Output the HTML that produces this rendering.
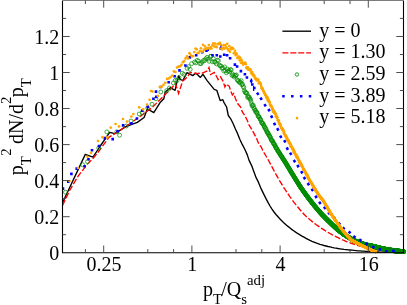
<!DOCTYPE html>
<html><head><meta charset="utf-8"><title>plot</title>
<style>html,body{margin:0;padding:0;background:#fff;overflow:hidden}svg{display:block}</style>
</head><body>
<svg width="407" height="305" viewBox="0 0 407 305">
<rect width="407" height="305" fill="#fff"/>
<defs><clipPath id="c"><rect x="62.5" y="0" width="343.5" height="253.89999999999998"/></clipPath></defs>
<g clip-path="url(#c)" fill="none">
<path d="M62.4 203 L85.3 154.4 L93 157.2 L100.3 146 L109.7 132.3 L114.7 133.6 L126.4 126.4 L137.3 122.4 L144.1 117.5 L147.4 108.8 L153.8 112.6 L159.9 102.8 L163.8 98.8 L165.2 92 L170.3 87.7 L175.1 90.3 L177.2 80.8 L178.8 75.8 L180 79.3 L182.8 80.5 L187 72.6 L192.7 75.6 L195.8 73.1 L200.4 77.4 L203 74.3 L207.3 80.8 L214.2 89.4 L216.8 90.3 L220.2 100.6 L222.8 99.7 L223.9 102.3 L226.6 107 L228.3 115.5 L230.7 118.8 L233.3 124 L235.4 129 L237.5 133.4 L239.8 139.3 L242.1 144.1 L244.8 149.3 L247.2 154.6 L249.1 160.4 L252 166.4 L254.1 172.2 L256 177.4 L258.5 182.4 L260.6 187.6 L264 194.6 L266 198.6 L268 202.4 L270 206 L272 209.1 L274 212 L276 214.5 L278 216.8 L280 219 L282 221 L284 222.9 L286 224.7 L288 226.4 L290 228 L292 229.6 L294 231 L296 232.4 L298 233.7 L300 234.9 L302 236.1 L304 237.2 L306 238.3 L308 239.4 L310 240.4 L312 241.3 L314 242.1 L316 242.9 L318 243.6 L320 244.3 L322 244.9 L324 245.5 L326 246 L328 246.5 L330 246.9 L332 247.4 L334 247.8 L336 248.1 L338 248.5 L340 248.8 L342 249.1 L344 249.4 L346 249.6 L348 249.8 L350 250 L352 250.2 L354 250.4 L356 250.6 L358 250.8 L360 250.9 L362 251.1 L364 251.2 L366 251.3 L368 251.5 L370 251.6 L372 251.7 L374 251.8 L376 251.9 L378 252 L380 252.1 L382 252.1 L384 252.2 L386 252.2 L388 252.3 L390 252.3 L392 252.4 L394 252.4 L396 252.4 L398 252.5 L400 252.5 L402 252.5" stroke="#000" stroke-width="1.35" stroke-linejoin="round"/>
<path d="M62.5 205.5 L70 189.8 L78 176.3 L87.1 164.4 L93.4 158 L97.9 152.5 L109 137.3 L124.5 127.3 L138 118 L152 107.7 L163.8 95.9 L171.2 88.5 L175.5 83.5 L178.6 93.5 L182.6 81.2 L187.5 77 L190 72.4 L196.2 73.6 L202.5 73 L207.5 70.7 L209 67.6 L210.6 74.5 L214.3 72.4 L215.6 74.5 L218.1 79.5 L220.6 76.8 L223.1 81.3 L224.9 86.9 L226.2 84.2 L229.3 86.3 L230.5 90.7 L232.4 95 L233.7 93.6 L235.5 98.8 L237.8 103.8 L240.6 107 L242.2 111.6 L244.8 115.6 L247.2 120.3 L249.1 125.1 L252 129.8 L254.2 133.9 L256.6 138.5 L258.4 143 L261.3 147.2 L263.1 151.2 L266 156 L268 159.5 L270 163.1 L272 166.9 L274 170.7 L276 174.4 L278 177.9 L280 181.3 L282 184.6 L284 187.8 L286 190.8 L288 193.8 L290 196.8 L292 199.6 L294 202.3 L296 204.9 L298 207.3 L300 209.7 L302 212 L304 214.2 L306 216.2 L308 218.1 L310 219.8 L312 221.4 L314 223 L316 224.5 L318 225.9 L320 227.3 L322 228.6 L324 229.9 L326 231.2 L328 232.4 L330 233.5 L332 234.6 L334 235.7 L336 236.7 L338 237.7 L340 238.7 L342 239.6 L344 240.5 L346 241.3 L348 242.1 L350 242.8 L352 243.5 L354 244.2 L356 244.9 L358 245.5 L360 246.1 L362 246.7 L364 247.2 L366 247.8 L368 248.3 L370 248.7 L372 249.1 L374 249.4 L376 249.8 L378 250.1 L380 250.4 L382 250.7 L384 250.9 L386 251.1 L388 251.3 L390 251.5 L392 251.6 L394 251.8 L396 251.9 L398 252 L400 252.1 L402 252.2" stroke="#f00" stroke-width="1.35" stroke-dasharray="6 2"/>
<g stroke="#008b00" stroke-width="0.72">
<circle cx="65.5" cy="192.2" r="1.95"/><circle cx="82.6" cy="164.7" r="1.95"/><circle cx="87.5" cy="161.7" r="1.95"/><circle cx="98.7" cy="148" r="1.95"/><circle cx="106.8" cy="131.9" r="1.95"/><circle cx="119.6" cy="135.2" r="1.95"/><circle cx="126.4" cy="126" r="1.95"/><circle cx="131" cy="121" r="1.95"/><circle cx="139.2" cy="114" r="1.95"/><circle cx="142.2" cy="112.5" r="1.95"/><circle cx="147.7" cy="108" r="1.95"/><circle cx="152" cy="104.2" r="1.95"/><circle cx="156" cy="98.8" r="1.95"/><circle cx="160.8" cy="92" r="1.95"/><circle cx="166.7" cy="90.6" r="1.95"/><circle cx="116.9" cy="131.8" r="1.95"/><circle cx="169.4" cy="88" r="1.95"/><circle cx="173.4" cy="83" r="1.95"/><circle cx="175.3" cy="80.3" r="1.95"/><circle cx="177.1" cy="80.5" r="1.95"/><circle cx="178.9" cy="77.6" r="1.95"/><circle cx="182.3" cy="73.2" r="1.95"/><circle cx="184" cy="74.4" r="1.95"/><circle cx="187.1" cy="68.3" r="1.95"/><circle cx="188.7" cy="66.6" r="1.95"/><circle cx="190.2" cy="69.4" r="1.95"/><circle cx="191.6" cy="63.7" r="1.95"/><circle cx="194.5" cy="62.1" r="1.95"/><circle cx="195.8" cy="62.9" r="1.95"/><circle cx="197.2" cy="60.4" r="1.95"/><circle cx="198.5" cy="61" r="1.95"/><circle cx="199.8" cy="63.6" r="1.95"/><circle cx="201" cy="63.6" r="1.95"/><circle cx="202.2" cy="62" r="1.95"/><circle cx="203.5" cy="60.4" r="1.95"/><circle cx="204.6" cy="60.7" r="1.95"/><circle cx="205.8" cy="58.8" r="1.95"/><circle cx="207" cy="57.4" r="1.95"/><circle cx="208.1" cy="59.2" r="1.95"/><circle cx="209.2" cy="61.3" r="1.95"/><circle cx="210.3" cy="56.4" r="1.95"/><circle cx="211.3" cy="56.2" r="1.95"/><circle cx="212.4" cy="61.8" r="1.95"/><circle cx="213.4" cy="58.6" r="1.95"/><circle cx="214.4" cy="61.8" r="1.95"/><circle cx="215.4" cy="62.2" r="1.95"/><circle cx="216.4" cy="63.9" r="1.95"/><circle cx="217.4" cy="60.2" r="1.95"/><circle cx="218.4" cy="60.7" r="1.95"/><circle cx="219.3" cy="65.1" r="1.95"/><circle cx="220.2" cy="65.8" r="1.95"/><circle cx="221.1" cy="66.1" r="1.95"/><circle cx="222" cy="68.3" r="1.95"/><circle cx="222.9" cy="68" r="1.95"/><circle cx="223.8" cy="71" r="1.95"/><circle cx="224.7" cy="66.9" r="1.95"/><circle cx="225.5" cy="70.7" r="1.95"/><circle cx="226.4" cy="72.8" r="1.95"/><circle cx="227.2" cy="68.9" r="1.95"/><circle cx="228" cy="71.5" r="1.95"/><circle cx="228.8" cy="70.4" r="1.95"/><circle cx="229.6" cy="71.7" r="1.95"/><circle cx="230.4" cy="69.6" r="1.95"/><circle cx="231.2" cy="69.8" r="1.95"/><circle cx="232" cy="75.5" r="1.95"/><circle cx="232.7" cy="74" r="1.95"/><circle cx="233.5" cy="75.7" r="1.95"/><circle cx="234.2" cy="77" r="1.95"/><circle cx="235" cy="75.4" r="1.95"/><circle cx="235.7" cy="75.7" r="1.95"/><circle cx="236.4" cy="74.9" r="1.95"/><circle cx="237.1" cy="79.6" r="1.95"/><circle cx="237.8" cy="80.6" r="1.95"/><circle cx="238.5" cy="80.8" r="1.95"/><circle cx="239.2" cy="82.4" r="1.95"/><circle cx="239.9" cy="81.7" r="1.95"/><circle cx="240.6" cy="82.8" r="1.95"/><circle cx="241.2" cy="80.6" r="1.95"/><circle cx="241.9" cy="84.7" r="1.95"/><circle cx="242.5" cy="84.1" r="1.95"/><circle cx="243.2" cy="86.5" r="1.95"/><circle cx="243.8" cy="87.7" r="1.95"/><circle cx="244.4" cy="90.6" r="1.95"/><circle cx="245.1" cy="92.2" r="1.95"/><circle cx="245.7" cy="92.8" r="1.95"/><circle cx="246.3" cy="92.7" r="1.95"/><circle cx="246.9" cy="93.3" r="1.95"/><circle cx="247.5" cy="97.3" r="1.95"/><circle cx="248.1" cy="95.9" r="1.95"/><circle cx="248.7" cy="97.6" r="1.95"/><circle cx="249.3" cy="97.2" r="1.95"/><circle cx="249.9" cy="99.1" r="1.95"/><circle cx="250.5" cy="99.3" r="1.95"/><circle cx="251" cy="101.4" r="1.95"/><circle cx="251.6" cy="103.8" r="1.95"/><circle cx="252.1" cy="105.8" r="1.95"/><circle cx="252.7" cy="105.5" r="1.95"/><circle cx="253.3" cy="105.3" r="1.95"/><circle cx="253.8" cy="107.7" r="1.95"/><circle cx="254.3" cy="108.6" r="1.95"/><circle cx="254.9" cy="110.2" r="1.95"/><circle cx="255.4" cy="110.2" r="1.95"/><circle cx="255.9" cy="112.3" r="1.95"/><circle cx="256.5" cy="111.9" r="1.95"/><circle cx="257" cy="112.5" r="1.95"/><circle cx="257.5" cy="114.1" r="1.95"/><circle cx="258" cy="116" r="1.95"/><circle cx="258.5" cy="116.4" r="1.95"/><circle cx="259" cy="116.8" r="1.95"/><circle cx="259.5" cy="117.7" r="1.95"/><circle cx="260" cy="118.9" r="1.95"/><circle cx="260.5" cy="119.4" r="1.95"/><circle cx="261" cy="120.5" r="1.95"/><circle cx="261.5" cy="122.2" r="1.95"/><circle cx="261.9" cy="122.9" r="1.95"/><circle cx="262.4" cy="123.6" r="1.95"/><circle cx="262.9" cy="123.2" r="1.95"/><circle cx="263.4" cy="124.8" r="1.95"/><circle cx="263.8" cy="125.3" r="1.95"/><circle cx="264.3" cy="127" r="1.95"/><circle cx="264.8" cy="126.9" r="1.95"/><circle cx="265.2" cy="128.7" r="1.95"/><circle cx="265.7" cy="128.4" r="1.95"/><circle cx="266.1" cy="129.6" r="1.95"/><circle cx="266.6" cy="131.2" r="1.95"/><circle cx="267" cy="131.5" r="1.95"/><circle cx="267.4" cy="132.8" r="1.95"/><circle cx="267.9" cy="133" r="1.95"/><circle cx="268.3" cy="133.4" r="1.95"/><circle cx="268.7" cy="134.9" r="1.95"/><circle cx="269.2" cy="135.4" r="1.95"/><circle cx="269.6" cy="136.2" r="1.95"/><circle cx="270" cy="136.5" r="1.95"/><circle cx="270.4" cy="137.3" r="1.95"/><circle cx="270.9" cy="139" r="1.95"/><circle cx="271.3" cy="139.8" r="1.95"/><circle cx="271.7" cy="140.5" r="1.95"/><circle cx="272.1" cy="140.5" r="1.95"/><circle cx="272.5" cy="140.9" r="1.95"/><circle cx="272.9" cy="142.2" r="1.95"/><circle cx="273.3" cy="143.1" r="1.95"/><circle cx="273.7" cy="143.7" r="1.95"/><circle cx="274.1" cy="143.8" r="1.95"/><circle cx="274.5" cy="144.6" r="1.95"/><circle cx="274.9" cy="145.8" r="1.95"/><circle cx="275.3" cy="145.8" r="1.95"/><circle cx="275.7" cy="147.2" r="1.95"/><circle cx="276" cy="148" r="1.95"/><circle cx="276.4" cy="148" r="1.95"/><circle cx="276.8" cy="148.5" r="1.95"/><circle cx="277.2" cy="149.8" r="1.95"/><circle cx="277.6" cy="150.3" r="1.95"/><circle cx="277.9" cy="150.7" r="1.95"/><circle cx="278.3" cy="151.3" r="1.95"/><circle cx="278.7" cy="152.2" r="1.95"/><circle cx="279" cy="152.4" r="1.95"/><circle cx="279.4" cy="152.8" r="1.95"/><circle cx="279.8" cy="153.8" r="1.95"/><circle cx="280.1" cy="154.1" r="1.95"/><circle cx="280.5" cy="154.9" r="1.95"/><circle cx="280.8" cy="155.6" r="1.95"/><circle cx="281.2" cy="155.8" r="1.95"/><circle cx="281.5" cy="156.3" r="1.95"/><circle cx="281.9" cy="156.7" r="1.95"/><circle cx="282.2" cy="157.7" r="1.95"/><circle cx="282.6" cy="157.8" r="1.95"/><circle cx="282.9" cy="158.8" r="1.95"/><circle cx="283.3" cy="159.2" r="1.95"/><circle cx="283.6" cy="159.8" r="1.95"/><circle cx="284" cy="160.3" r="1.95"/><circle cx="284.3" cy="160.5" r="1.95"/><circle cx="284.6" cy="161" r="1.95"/><circle cx="285" cy="162" r="1.95"/><circle cx="285.3" cy="162.2" r="1.95"/><circle cx="285.6" cy="162.9" r="1.95"/><circle cx="286" cy="163.2" r="1.95"/><circle cx="286.3" cy="163.8" r="1.95"/><circle cx="286.6" cy="164.5" r="1.95"/><circle cx="286.9" cy="164.8" r="1.95"/><circle cx="287.3" cy="165.6" r="1.95"/><circle cx="287.6" cy="166.2" r="1.95"/><circle cx="287.9" cy="166.5" r="1.95"/><circle cx="288.2" cy="167" r="1.95"/><circle cx="288.5" cy="167.4" r="1.95"/><circle cx="288.8" cy="168.1" r="1.95"/><circle cx="289.2" cy="168.5" r="1.95"/><circle cx="289.5" cy="169.2" r="1.95"/><circle cx="289.8" cy="169.8" r="1.95"/><circle cx="290.1" cy="170.2" r="1.95"/><circle cx="290.4" cy="170.8" r="1.95"/><circle cx="290.7" cy="171.3" r="1.95"/><circle cx="291" cy="171.9" r="1.95"/><circle cx="291.3" cy="172.3" r="1.95"/><circle cx="291.6" cy="172.9" r="1.95"/><circle cx="291.9" cy="173.2" r="1.95"/><circle cx="292.2" cy="173.6" r="1.95"/><circle cx="292.5" cy="174.1" r="1.95"/><circle cx="292.8" cy="174.8" r="1.95"/><circle cx="293.1" cy="175.1" r="1.95"/><circle cx="293.4" cy="175.7" r="1.95"/><circle cx="293.7" cy="176.2" r="1.95"/><circle cx="294" cy="176.6" r="1.95"/><circle cx="294.2" cy="176.9" r="1.95"/><circle cx="294.5" cy="177.5" r="1.95"/><circle cx="294.8" cy="177.9" r="1.95"/><circle cx="295.1" cy="178.6" r="1.95"/><circle cx="295.4" cy="178.8" r="1.95"/><circle cx="295.7" cy="179.3" r="1.95"/><circle cx="295.9" cy="179.8" r="1.95"/><circle cx="296.2" cy="180.3" r="1.95"/><circle cx="296.5" cy="180.6" r="1.95"/><circle cx="296.8" cy="181.1" r="1.95"/><circle cx="297.1" cy="181.6" r="1.95"/><circle cx="297.3" cy="182" r="1.95"/><circle cx="297.6" cy="182.4" r="1.95"/><circle cx="297.9" cy="182.9" r="1.95"/><circle cx="298.2" cy="183.3" r="1.95"/><circle cx="298.4" cy="183.7" r="1.95"/><circle cx="298.7" cy="184.1" r="1.95"/><circle cx="299" cy="184.6" r="1.95"/><circle cx="299.2" cy="185.1" r="1.95"/><circle cx="299.5" cy="185.5" r="1.95"/><circle cx="299.8" cy="185.9" r="1.95"/><circle cx="300" cy="186.3" r="1.95"/><circle cx="300.3" cy="186.6" r="1.95"/><circle cx="300.5" cy="187.1" r="1.95"/><circle cx="300.8" cy="187.4" r="1.95"/><circle cx="301.1" cy="187.8" r="1.95"/><circle cx="301.3" cy="188.2" r="1.95"/><circle cx="301.6" cy="188.5" r="1.95"/><circle cx="301.8" cy="188.9" r="1.95"/><circle cx="302.1" cy="189.3" r="1.95"/><circle cx="302.3" cy="189.7" r="1.95"/><circle cx="302.6" cy="190" r="1.95"/><circle cx="302.8" cy="190.4" r="1.95"/><circle cx="303.1" cy="190.7" r="1.95"/><circle cx="303.3" cy="191.1" r="1.95"/><circle cx="303.6" cy="191.5" r="1.95"/><circle cx="303.8" cy="191.8" r="1.95"/><circle cx="304.1" cy="192.1" r="1.95"/><circle cx="304.3" cy="192.6" r="1.95"/><circle cx="304.6" cy="192.9" r="1.95"/><circle cx="304.8" cy="193.2" r="1.95"/><circle cx="305.1" cy="193.5" r="1.95"/><circle cx="305.3" cy="193.8" r="1.95"/><circle cx="305.6" cy="194.3" r="1.95"/><circle cx="305.8" cy="194.5" r="1.95"/><circle cx="306" cy="194.8" r="1.95"/><circle cx="306.3" cy="195.2" r="1.95"/><circle cx="306.5" cy="195.6" r="1.95"/><circle cx="306.7" cy="195.8" r="1.95"/><circle cx="307" cy="196.1" r="1.95"/><circle cx="307.2" cy="196.5" r="1.95"/><circle cx="307.5" cy="196.8" r="1.95"/><circle cx="307.7" cy="197" r="1.95"/><circle cx="307.9" cy="197.4" r="1.95"/><circle cx="308.2" cy="197.7" r="1.95"/><circle cx="308.4" cy="198" r="1.95"/><circle cx="308.6" cy="198.3" r="1.95"/><circle cx="308.8" cy="198.6" r="1.95"/><circle cx="309.1" cy="199" r="1.95"/><circle cx="309.3" cy="199.3" r="1.95"/><circle cx="309.5" cy="199.5" r="1.95"/><circle cx="309.7" cy="199.8" r="1.95"/><circle cx="310" cy="200.1" r="1.95"/><circle cx="310.2" cy="200.4" r="1.95"/><circle cx="310.4" cy="200.7" r="1.95"/><circle cx="310.6" cy="200.9" r="1.95"/><circle cx="310.9" cy="201.2" r="1.95"/><circle cx="311.1" cy="201.5" r="1.95"/><circle cx="311.3" cy="201.8" r="1.95"/><circle cx="311.5" cy="202.1" r="1.95"/><circle cx="311.7" cy="202.4" r="1.95"/><circle cx="312" cy="202.6" r="1.95"/><circle cx="312.2" cy="202.9" r="1.95"/><circle cx="312.4" cy="203.2" r="1.95"/><circle cx="312.6" cy="203.5" r="1.95"/><circle cx="312.8" cy="203.7" r="1.95"/><circle cx="313" cy="204" r="1.95"/><circle cx="313.3" cy="204.2" r="1.95"/><circle cx="313.5" cy="204.6" r="1.95"/><circle cx="313.7" cy="204.8" r="1.95"/><circle cx="313.9" cy="205.1" r="1.95"/><circle cx="314.1" cy="205.4" r="1.95"/><circle cx="314.3" cy="205.6" r="1.95"/><circle cx="314.5" cy="205.9" r="1.95"/><circle cx="314.7" cy="206.1" r="1.95"/><circle cx="314.9" cy="206.3" r="1.95"/><circle cx="315.2" cy="206.6" r="1.95"/><circle cx="315.4" cy="206.9" r="1.95"/><circle cx="315.6" cy="207.1" r="1.95"/><circle cx="315.8" cy="207.4" r="1.95"/><circle cx="316" cy="207.7" r="1.95"/><circle cx="316.2" cy="207.8" r="1.95"/><circle cx="316.4" cy="208.1" r="1.95"/><circle cx="316.6" cy="208.4" r="1.95"/><circle cx="316.8" cy="208.6" r="1.95"/><circle cx="317" cy="208.8" r="1.95"/><circle cx="317.2" cy="209" r="1.95"/><circle cx="317.4" cy="209.3" r="1.95"/><circle cx="317.6" cy="209.5" r="1.95"/><circle cx="317.8" cy="209.8" r="1.95"/><circle cx="318" cy="210" r="1.95"/><circle cx="318.2" cy="210.2" r="1.95"/><circle cx="318.4" cy="210.5" r="1.95"/><circle cx="318.6" cy="210.7" r="1.95"/><circle cx="318.8" cy="210.9" r="1.95"/><circle cx="319" cy="211.1" r="1.95"/><circle cx="319.2" cy="211.4" r="1.95"/><circle cx="319.4" cy="211.6" r="1.95"/><circle cx="319.6" cy="211.8" r="1.95"/><circle cx="319.7" cy="212" r="1.95"/><circle cx="319.9" cy="212.3" r="1.95"/><circle cx="320.1" cy="212.4" r="1.95"/><circle cx="320.3" cy="212.7" r="1.95"/><circle cx="320.5" cy="212.9" r="1.95"/><circle cx="320.7" cy="213.1" r="1.95"/><circle cx="320.9" cy="213.3" r="1.95"/><circle cx="321.1" cy="213.5" r="1.95"/><circle cx="321.3" cy="213.7" r="1.95"/><circle cx="321.5" cy="213.9" r="1.95"/><circle cx="321.6" cy="214.1" r="1.95"/><circle cx="321.8" cy="214.3" r="1.95"/><circle cx="322" cy="214.5" r="1.95"/><circle cx="322.2" cy="214.7" r="1.95"/><circle cx="322.4" cy="214.9" r="1.95"/><circle cx="322.6" cy="215.1" r="1.95"/><circle cx="322.8" cy="215.3" r="1.95"/><circle cx="322.9" cy="215.5" r="1.95"/><circle cx="323.1" cy="215.7" r="1.95"/><circle cx="323.3" cy="215.8" r="1.95"/><circle cx="323.5" cy="216" r="1.95"/><circle cx="323.7" cy="216.2" r="1.95"/><circle cx="323.9" cy="216.4" r="1.95"/><circle cx="324" cy="216.6" r="1.95"/><circle cx="324.2" cy="216.7" r="1.95"/><circle cx="324.4" cy="217" r="1.95"/><circle cx="324.6" cy="217.1" r="1.95"/><circle cx="324.8" cy="217.3" r="1.95"/><circle cx="324.9" cy="217.5" r="1.95"/><circle cx="325.1" cy="217.7" r="1.95"/><circle cx="325.3" cy="217.8" r="1.95"/><circle cx="325.5" cy="218" r="1.95"/><circle cx="325.6" cy="218.2" r="1.95"/><circle cx="325.8" cy="218.4" r="1.95"/><circle cx="326" cy="218.6" r="1.95"/><circle cx="326.2" cy="218.7" r="1.95"/><circle cx="326.3" cy="218.9" r="1.95"/><circle cx="326.5" cy="219.1" r="1.95"/><circle cx="326.7" cy="219.2" r="1.95"/><circle cx="326.9" cy="219.4" r="1.95"/><circle cx="327" cy="219.6" r="1.95"/><circle cx="327.2" cy="219.7" r="1.95"/><circle cx="327.4" cy="219.9" r="1.95"/><circle cx="327.5" cy="220.1" r="1.95"/><circle cx="327.7" cy="220.3" r="1.95"/><circle cx="327.9" cy="220.4" r="1.95"/><circle cx="328" cy="220.6" r="1.95"/><circle cx="328.2" cy="220.7" r="1.95"/><circle cx="328.4" cy="220.9" r="1.95"/><circle cx="328.6" cy="221.1" r="1.95"/><circle cx="328.7" cy="221.2" r="1.95"/><circle cx="328.9" cy="221.4" r="1.95"/><circle cx="329.1" cy="221.6" r="1.95"/><circle cx="329.2" cy="221.7" r="1.95"/><circle cx="329.4" cy="221.9" r="1.95"/><circle cx="329.6" cy="222" r="1.95"/><circle cx="329.7" cy="222.2" r="1.95"/><circle cx="329.9" cy="222.4" r="1.95"/><circle cx="330" cy="222.5" r="1.95"/><circle cx="330.2" cy="222.7" r="1.95"/><circle cx="330.4" cy="222.8" r="1.95"/><circle cx="330.5" cy="223" r="1.95"/><circle cx="330.7" cy="223.2" r="1.95"/><circle cx="330.9" cy="223.3" r="1.95"/><circle cx="331" cy="223.5" r="1.95"/><circle cx="331.2" cy="223.6" r="1.95"/><circle cx="331.3" cy="223.8" r="1.95"/><circle cx="331.5" cy="223.9" r="1.95"/><circle cx="331.7" cy="224.1" r="1.95"/><circle cx="331.8" cy="224.3" r="1.95"/><circle cx="332" cy="224.4" r="1.95"/><circle cx="332.1" cy="224.6" r="1.95"/><circle cx="332.3" cy="224.7" r="1.95"/><circle cx="332.5" cy="224.9" r="1.95"/><circle cx="332.6" cy="225" r="1.95"/><circle cx="332.8" cy="225.2" r="1.95"/><circle cx="332.9" cy="225.3" r="1.95"/><circle cx="333.1" cy="225.5" r="1.95"/><circle cx="333.2" cy="225.6" r="1.95"/><circle cx="333.4" cy="225.8" r="1.95"/><circle cx="333.6" cy="225.9" r="1.95"/><circle cx="333.7" cy="226.1" r="1.95"/><circle cx="333.9" cy="226.2" r="1.95"/><circle cx="334" cy="226.3" r="1.95"/><circle cx="334.2" cy="226.5" r="1.95"/><circle cx="334.3" cy="226.6" r="1.95"/><circle cx="334.5" cy="226.8" r="1.95"/><circle cx="334.6" cy="226.9" r="1.95"/><circle cx="334.8" cy="227.1" r="1.95"/><circle cx="334.9" cy="227.2" r="1.95"/><circle cx="335.1" cy="227.3" r="1.95"/><circle cx="335.2" cy="227.5" r="1.95"/><circle cx="335.4" cy="227.6" r="1.95"/><circle cx="335.5" cy="227.7" r="1.95"/><circle cx="335.7" cy="227.9" r="1.95"/><circle cx="335.8" cy="228" r="1.95"/><circle cx="336" cy="228.1" r="1.95"/><circle cx="336.1" cy="228.3" r="1.95"/><circle cx="336.3" cy="228.4" r="1.95"/><circle cx="336.4" cy="228.5" r="1.95"/><circle cx="336.6" cy="228.7" r="1.95"/><circle cx="336.7" cy="228.8" r="1.95"/><circle cx="336.9" cy="228.9" r="1.95"/><circle cx="337" cy="229.1" r="1.95"/><circle cx="337.2" cy="229.2" r="1.95"/><circle cx="337.3" cy="229.3" r="1.95"/><circle cx="337.5" cy="229.4" r="1.95"/><circle cx="337.6" cy="229.6" r="1.95"/><circle cx="337.8" cy="229.7" r="1.95"/><circle cx="337.9" cy="229.8" r="1.95"/><circle cx="338" cy="229.9" r="1.95"/><circle cx="338.2" cy="230" r="1.95"/><circle cx="338.3" cy="230.1" r="1.95"/><circle cx="338.5" cy="230.3" r="1.95"/><circle cx="338.6" cy="230.4" r="1.95"/><circle cx="338.8" cy="230.5" r="1.95"/><circle cx="338.9" cy="230.6" r="1.95"/><circle cx="339.1" cy="230.7" r="1.95"/><circle cx="339.2" cy="230.8" r="1.95"/><circle cx="339.3" cy="230.9" r="1.95"/><circle cx="339.5" cy="231.1" r="1.95"/><circle cx="339.6" cy="231.2" r="1.95"/><circle cx="339.8" cy="231.3" r="1.95"/><circle cx="339.9" cy="231.4" r="1.95"/><circle cx="340" cy="231.5" r="1.95"/><circle cx="340.2" cy="231.6" r="1.95"/><circle cx="340.3" cy="231.7" r="1.95"/><circle cx="340.5" cy="231.8" r="1.95"/><circle cx="340.6" cy="231.9" r="1.95"/><circle cx="340.7" cy="232" r="1.95"/><circle cx="340.9" cy="232.1" r="1.95"/><circle cx="341" cy="232.3" r="1.95"/><circle cx="341.2" cy="232.4" r="1.95"/><circle cx="341.3" cy="232.5" r="1.95"/><circle cx="341.4" cy="232.6" r="1.95"/><circle cx="341.6" cy="232.7" r="1.95"/><circle cx="341.7" cy="232.8" r="1.95"/><circle cx="341.8" cy="232.9" r="1.95"/><circle cx="342" cy="233" r="1.95"/><circle cx="342.1" cy="233.1" r="1.95"/><circle cx="342.2" cy="233.2" r="1.95"/><circle cx="342.4" cy="233.3" r="1.95"/><circle cx="342.5" cy="233.4" r="1.95"/><circle cx="342.6" cy="233.5" r="1.95"/><circle cx="342.8" cy="233.6" r="1.95"/><circle cx="342.9" cy="233.7" r="1.95"/><circle cx="343.1" cy="233.8" r="1.95"/><circle cx="343.2" cy="233.9" r="1.95"/><circle cx="343.3" cy="234" r="1.95"/><circle cx="343.5" cy="234.1" r="1.95"/><circle cx="343.6" cy="234.1" r="1.95"/><circle cx="343.7" cy="234.2" r="1.95"/><circle cx="343.8" cy="234.3" r="1.95"/><circle cx="344" cy="234.4" r="1.95"/><circle cx="344.1" cy="234.5" r="1.95"/><circle cx="344.2" cy="234.6" r="1.95"/><circle cx="344.4" cy="234.7" r="1.95"/><circle cx="344.5" cy="234.8" r="1.95"/><circle cx="344.6" cy="234.9" r="1.95"/><circle cx="344.8" cy="235" r="1.95"/><circle cx="344.9" cy="235.1" r="1.95"/><circle cx="345" cy="235.1" r="1.95"/><circle cx="345.2" cy="235.2" r="1.95"/><circle cx="345.3" cy="235.3" r="1.95"/><circle cx="345.4" cy="235.4" r="1.95"/><circle cx="345.5" cy="235.5" r="1.95"/><circle cx="345.7" cy="235.6" r="1.95"/><circle cx="345.8" cy="235.7" r="1.95"/><circle cx="345.9" cy="235.7" r="1.95"/><circle cx="346.1" cy="235.8" r="1.95"/><circle cx="346.2" cy="235.9" r="1.95"/><circle cx="346.3" cy="236" r="1.95"/><circle cx="346.4" cy="236.1" r="1.95"/><circle cx="346.6" cy="236.2" r="1.95"/><circle cx="346.7" cy="236.2" r="1.95"/><circle cx="346.8" cy="236.3" r="1.95"/><circle cx="346.9" cy="236.4" r="1.95"/><circle cx="347.1" cy="236.5" r="1.95"/><circle cx="347.2" cy="236.5" r="1.95"/><circle cx="347.3" cy="236.6" r="1.95"/><circle cx="347.4" cy="236.7" r="1.95"/><circle cx="347.6" cy="236.8" r="1.95"/><circle cx="347.7" cy="236.9" r="1.95"/><circle cx="347.8" cy="236.9" r="1.95"/><circle cx="347.9" cy="237" r="1.95"/><circle cx="348.1" cy="237.1" r="1.95"/><circle cx="348.2" cy="237.2" r="1.95"/><circle cx="348.3" cy="237.2" r="1.95"/><circle cx="348.4" cy="237.3" r="1.95"/><circle cx="348.6" cy="237.4" r="1.95"/><circle cx="348.7" cy="237.4" r="1.95"/><circle cx="348.8" cy="237.5" r="1.95"/><circle cx="348.9" cy="237.6" r="1.95"/><circle cx="349" cy="237.7" r="1.95"/><circle cx="349.2" cy="237.7" r="1.95"/><circle cx="349.3" cy="237.8" r="1.95"/><circle cx="349.4" cy="237.9" r="1.95"/><circle cx="349.5" cy="237.9" r="1.95"/><circle cx="349.6" cy="238" r="1.95"/><circle cx="349.8" cy="238.1" r="1.95"/><circle cx="349.9" cy="238.2" r="1.95"/><circle cx="350" cy="238.2" r="1.95"/><circle cx="350.1" cy="238.3" r="1.95"/><circle cx="350.2" cy="238.4" r="1.95"/><circle cx="350.4" cy="238.4" r="1.95"/><circle cx="350.5" cy="238.5" r="1.95"/><circle cx="350.6" cy="238.6" r="1.95"/><circle cx="350.7" cy="238.6" r="1.95"/><circle cx="350.8" cy="238.7" r="1.95"/><circle cx="351" cy="238.8" r="1.95"/><circle cx="351.1" cy="238.8" r="1.95"/><circle cx="351.2" cy="238.9" r="1.95"/><circle cx="351.3" cy="239" r="1.95"/><circle cx="351.4" cy="239" r="1.95"/><circle cx="351.5" cy="239.1" r="1.95"/><circle cx="351.7" cy="239.2" r="1.95"/><circle cx="351.8" cy="239.2" r="1.95"/><circle cx="351.9" cy="239.3" r="1.95"/><circle cx="352" cy="239.3" r="1.95"/><circle cx="352.1" cy="239.4" r="1.95"/><circle cx="352.2" cy="239.5" r="1.95"/><circle cx="352.4" cy="239.5" r="1.95"/><circle cx="352.5" cy="239.6" r="1.95"/><circle cx="352.6" cy="239.6" r="1.95"/><circle cx="352.7" cy="239.7" r="1.95"/><circle cx="352.8" cy="239.8" r="1.95"/><circle cx="352.9" cy="239.8" r="1.95"/><circle cx="353" cy="239.9" r="1.95"/><circle cx="353.2" cy="239.9" r="1.95"/><circle cx="353.3" cy="240" r="1.95"/><circle cx="353.4" cy="240.1" r="1.95"/><circle cx="353.5" cy="240.1" r="1.95"/><circle cx="353.6" cy="240.2" r="1.95"/><circle cx="353.7" cy="240.2" r="1.95"/><circle cx="353.8" cy="240.3" r="1.95"/><circle cx="354" cy="240.3" r="1.95"/><circle cx="354.1" cy="240.4" r="1.95"/><circle cx="354.2" cy="240.5" r="1.95"/><circle cx="354.3" cy="240.5" r="1.95"/><circle cx="354.4" cy="240.6" r="1.95"/><circle cx="354.5" cy="240.6" r="1.95"/><circle cx="354.6" cy="240.7" r="1.95"/><circle cx="354.7" cy="240.7" r="1.95"/><circle cx="354.9" cy="240.8" r="1.95"/><circle cx="355" cy="240.8" r="1.95"/><circle cx="355.1" cy="240.9" r="1.95"/><circle cx="355.2" cy="240.9" r="1.95"/><circle cx="355.3" cy="241" r="1.95"/><circle cx="355.4" cy="241" r="1.95"/><circle cx="355.5" cy="241.1" r="1.95"/><circle cx="355.6" cy="241.1" r="1.95"/><circle cx="355.7" cy="241.2" r="1.95"/><circle cx="355.8" cy="241.2" r="1.95"/><circle cx="356" cy="241.3" r="1.95"/><circle cx="356.1" cy="241.3" r="1.95"/><circle cx="356.2" cy="241.4" r="1.95"/><circle cx="356.3" cy="241.4" r="1.95"/><circle cx="356.4" cy="241.5" r="1.95"/><circle cx="356.5" cy="241.5" r="1.95"/><circle cx="356.6" cy="241.6" r="1.95"/><circle cx="356.7" cy="241.6" r="1.95"/><circle cx="356.8" cy="241.6" r="1.95"/><circle cx="356.9" cy="241.7" r="1.95"/><circle cx="357" cy="241.7" r="1.95"/><circle cx="357.1" cy="241.8" r="1.95"/><circle cx="357.2" cy="241.8" r="1.95"/><circle cx="357.4" cy="241.9" r="1.95"/><circle cx="357.5" cy="241.9" r="1.95"/><circle cx="357.6" cy="242" r="1.95"/><circle cx="357.7" cy="242" r="1.95"/><circle cx="357.8" cy="242" r="1.95"/><circle cx="357.9" cy="242.1" r="1.95"/><circle cx="358" cy="242.1" r="1.95"/><circle cx="358.1" cy="242.2" r="1.95"/><circle cx="358.2" cy="242.2" r="1.95"/><circle cx="358.3" cy="242.3" r="1.95"/><circle cx="358.4" cy="242.3" r="1.95"/><circle cx="358.5" cy="242.3" r="1.95"/><circle cx="358.6" cy="242.4" r="1.95"/><circle cx="358.7" cy="242.4" r="1.95"/><circle cx="358.8" cy="242.5" r="1.95"/><circle cx="358.9" cy="242.5" r="1.95"/><circle cx="359" cy="242.5" r="1.95"/><circle cx="359.1" cy="242.6" r="1.95"/><circle cx="359.2" cy="242.6" r="1.95"/><circle cx="359.4" cy="242.7" r="1.95"/><circle cx="359.5" cy="242.7" r="1.95"/><circle cx="359.6" cy="242.7" r="1.95"/><circle cx="359.7" cy="242.8" r="1.95"/><circle cx="359.8" cy="242.8" r="1.95"/><circle cx="359.9" cy="242.9" r="1.95"/><circle cx="360" cy="242.9" r="1.95"/><circle cx="360.1" cy="242.9" r="1.95"/><circle cx="360.2" cy="243" r="1.95"/><circle cx="360.3" cy="243" r="1.95"/><circle cx="360.4" cy="243" r="1.95"/><circle cx="360.5" cy="243.1" r="1.95"/><circle cx="360.6" cy="243.1" r="1.95"/><circle cx="360.7" cy="243.2" r="1.95"/><circle cx="360.8" cy="243.2" r="1.95"/><circle cx="360.9" cy="243.2" r="1.95"/><circle cx="361" cy="243.3" r="1.95"/><circle cx="361.1" cy="243.3" r="1.95"/><circle cx="361.2" cy="243.3" r="1.95"/><circle cx="361.3" cy="243.4" r="1.95"/><circle cx="361.4" cy="243.4" r="1.95"/><circle cx="361.5" cy="243.4" r="1.95"/><circle cx="361.6" cy="243.5" r="1.95"/><circle cx="361.7" cy="243.5" r="1.95"/><circle cx="361.8" cy="243.5" r="1.95"/><circle cx="361.9" cy="243.6" r="1.95"/><circle cx="362" cy="243.6" r="1.95"/><circle cx="362.1" cy="243.7" r="1.95"/><circle cx="362.2" cy="243.7" r="1.95"/><circle cx="362.3" cy="243.7" r="1.95"/><circle cx="362.4" cy="243.7" r="1.95"/><circle cx="362.5" cy="243.8" r="1.95"/><circle cx="362.6" cy="243.8" r="1.95"/><circle cx="362.7" cy="243.8" r="1.95"/><circle cx="362.8" cy="243.9" r="1.95"/><circle cx="362.9" cy="243.9" r="1.95"/><circle cx="363" cy="243.9" r="1.95"/><circle cx="363.1" cy="244" r="1.95"/><circle cx="363.2" cy="244" r="1.95"/><circle cx="363.3" cy="244" r="1.95"/><circle cx="363.4" cy="244.1" r="1.95"/><circle cx="363.5" cy="244.1" r="1.95"/><circle cx="363.6" cy="244.1" r="1.95"/><circle cx="363.6" cy="244.2" r="1.95"/><circle cx="363.7" cy="244.2" r="1.95"/><circle cx="363.8" cy="244.2" r="1.95"/><circle cx="363.9" cy="244.2" r="1.95"/><circle cx="364" cy="244.3" r="1.95"/><circle cx="364.1" cy="244.3" r="1.95"/><circle cx="364.2" cy="244.3" r="1.95"/><circle cx="364.3" cy="244.4" r="1.95"/><circle cx="364.4" cy="244.4" r="1.95"/><circle cx="364.5" cy="244.4" r="1.95"/><circle cx="364.6" cy="244.4" r="1.95"/><circle cx="364.7" cy="244.5" r="1.95"/><circle cx="364.8" cy="244.5" r="1.95"/><circle cx="364.9" cy="244.5" r="1.95"/><circle cx="365" cy="244.6" r="1.95"/><circle cx="365.1" cy="244.6" r="1.95"/><circle cx="365.2" cy="244.6" r="1.95"/><circle cx="365.3" cy="244.6" r="1.95"/><circle cx="365.4" cy="244.7" r="1.95"/><circle cx="365.5" cy="244.7" r="1.95"/><circle cx="365.6" cy="244.7" r="1.95"/><circle cx="365.6" cy="244.7" r="1.95"/><circle cx="365.7" cy="244.8" r="1.95"/><circle cx="365.8" cy="244.8" r="1.95"/><circle cx="365.9" cy="244.8" r="1.95"/><circle cx="366" cy="244.8" r="1.95"/><circle cx="366.1" cy="244.9" r="1.95"/><circle cx="366.2" cy="244.9" r="1.95"/><circle cx="366.3" cy="244.9" r="1.95"/><circle cx="366.4" cy="244.9" r="1.95"/><circle cx="366.5" cy="244.9" r="1.95"/><circle cx="366.6" cy="245" r="1.95"/><circle cx="366.7" cy="245" r="1.95"/><circle cx="366.8" cy="245" r="1.95"/><circle cx="366.9" cy="245" r="1.95"/><circle cx="366.9" cy="245.1" r="1.95"/><circle cx="367" cy="245.1" r="1.95"/><circle cx="367.1" cy="245.1" r="1.95"/><circle cx="367.2" cy="245.1" r="1.95"/><circle cx="367.3" cy="245.1" r="1.95"/><circle cx="367.4" cy="245.2" r="1.95"/><circle cx="367.5" cy="245.2" r="1.95"/><circle cx="367.6" cy="245.2" r="1.95"/><circle cx="367.7" cy="245.2" r="1.95"/><circle cx="367.8" cy="245.2" r="1.95"/><circle cx="367.9" cy="245.3" r="1.95"/><circle cx="367.9" cy="245.3" r="1.95"/><circle cx="368" cy="245.3" r="1.95"/><circle cx="368.1" cy="245.3" r="1.95"/><circle cx="368.2" cy="245.3" r="1.95"/><circle cx="368.3" cy="245.4" r="1.95"/><circle cx="368.4" cy="245.4" r="1.95"/><circle cx="368.5" cy="245.4" r="1.95"/><circle cx="368.6" cy="245.4" r="1.95"/><circle cx="368.7" cy="245.4" r="1.95"/><circle cx="368.8" cy="245.5" r="1.95"/><circle cx="368.8" cy="245.5" r="1.95"/><circle cx="368.9" cy="245.5" r="1.95"/><circle cx="369" cy="245.5" r="1.95"/><circle cx="369.1" cy="245.5" r="1.95"/><circle cx="369.2" cy="245.5" r="1.95"/><circle cx="369.3" cy="245.6" r="1.95"/><circle cx="369.4" cy="245.6" r="1.95"/><circle cx="369.5" cy="245.6" r="1.95"/><circle cx="369.6" cy="245.6" r="1.95"/><circle cx="369.6" cy="245.6" r="1.95"/><circle cx="369.7" cy="245.6" r="1.95"/><circle cx="369.8" cy="245.7" r="1.95"/><circle cx="369.9" cy="245.7" r="1.95"/><circle cx="370" cy="245.7" r="1.95"/><circle cx="370.1" cy="245.7" r="1.95"/><circle cx="370.2" cy="245.7" r="1.95"/><circle cx="370.3" cy="245.7" r="1.95"/><circle cx="370.3" cy="245.8" r="1.95"/><circle cx="370.4" cy="245.8" r="1.95"/><circle cx="370.5" cy="245.8" r="1.95"/><circle cx="370.6" cy="245.8" r="1.95"/><circle cx="370.7" cy="245.8" r="1.95"/><circle cx="370.8" cy="245.9" r="1.95"/><circle cx="370.9" cy="245.9" r="1.95"/><circle cx="370.9" cy="245.9" r="1.95"/><circle cx="371" cy="245.9" r="1.95"/><circle cx="371.1" cy="245.9" r="1.95"/><circle cx="371.2" cy="245.9" r="1.95"/><circle cx="371.3" cy="246" r="1.95"/><circle cx="371.4" cy="246" r="1.95"/><circle cx="371.5" cy="246" r="1.95"/><circle cx="371.5" cy="246" r="1.95"/><circle cx="371.6" cy="246" r="1.95"/><circle cx="371.7" cy="246" r="1.95"/><circle cx="371.8" cy="246.1" r="1.95"/><circle cx="371.9" cy="246.1" r="1.95"/><circle cx="372" cy="246.1" r="1.95"/><circle cx="372.1" cy="246.1" r="1.95"/><circle cx="372.1" cy="246.1" r="1.95"/><circle cx="372.2" cy="246.2" r="1.95"/><circle cx="372.3" cy="246.2" r="1.95"/><circle cx="372.4" cy="246.2" r="1.95"/><circle cx="372.5" cy="246.2" r="1.95"/><circle cx="372.6" cy="246.2" r="1.95"/><circle cx="372.6" cy="246.2" r="1.95"/><circle cx="372.7" cy="246.3" r="1.95"/><circle cx="372.8" cy="246.3" r="1.95"/><circle cx="372.9" cy="246.3" r="1.95"/><circle cx="373" cy="246.3" r="1.95"/><circle cx="373.1" cy="246.3" r="1.95"/><circle cx="373.2" cy="246.4" r="1.95"/><circle cx="373.2" cy="246.4" r="1.95"/><circle cx="373.3" cy="246.4" r="1.95"/><circle cx="373.4" cy="246.4" r="1.95"/><circle cx="373.5" cy="246.4" r="1.95"/><circle cx="373.6" cy="246.5" r="1.95"/><circle cx="373.6" cy="246.5" r="1.95"/><circle cx="373.7" cy="246.5" r="1.95"/><circle cx="373.8" cy="246.5" r="1.95"/><circle cx="373.9" cy="246.5" r="1.95"/><circle cx="374" cy="246.6" r="1.95"/><circle cx="374.1" cy="246.6" r="1.95"/><circle cx="374.1" cy="246.6" r="1.95"/><circle cx="374.2" cy="246.6" r="1.95"/><circle cx="374.3" cy="246.6" r="1.95"/><circle cx="374.4" cy="246.7" r="1.95"/><circle cx="374.5" cy="246.7" r="1.95"/><circle cx="374.6" cy="246.7" r="1.95"/><circle cx="374.6" cy="246.7" r="1.95"/><circle cx="374.7" cy="246.7" r="1.95"/><circle cx="374.8" cy="246.8" r="1.95"/><circle cx="374.9" cy="246.8" r="1.95"/><circle cx="375" cy="246.8" r="1.95"/><circle cx="375" cy="246.8" r="1.95"/><circle cx="375.1" cy="246.8" r="1.95"/><circle cx="375.2" cy="246.9" r="1.95"/><circle cx="375.3" cy="246.9" r="1.95"/><circle cx="375.4" cy="246.9" r="1.95"/><circle cx="375.4" cy="246.9" r="1.95"/><circle cx="375.5" cy="246.9" r="1.95"/><circle cx="375.6" cy="247" r="1.95"/><circle cx="375.7" cy="247" r="1.95"/><circle cx="375.8" cy="247" r="1.95"/><circle cx="375.8" cy="247" r="1.95"/><circle cx="375.9" cy="247" r="1.95"/><circle cx="376" cy="247.1" r="1.95"/><circle cx="376.1" cy="247.1" r="1.95"/><circle cx="376.2" cy="247.1" r="1.95"/><circle cx="376.2" cy="247.1" r="1.95"/><circle cx="376.3" cy="247.1" r="1.95"/><circle cx="376.4" cy="247.2" r="1.95"/><circle cx="376.5" cy="247.2" r="1.95"/><circle cx="376.6" cy="247.2" r="1.95"/><circle cx="376.6" cy="247.2" r="1.95"/><circle cx="376.7" cy="247.2" r="1.95"/><circle cx="376.8" cy="247.3" r="1.95"/><circle cx="376.9" cy="247.3" r="1.95"/><circle cx="376.9" cy="247.3" r="1.95"/><circle cx="377" cy="247.3" r="1.95"/><circle cx="377.1" cy="247.3" r="1.95"/><circle cx="377.2" cy="247.4" r="1.95"/><circle cx="377.3" cy="247.4" r="1.95"/><circle cx="377.3" cy="247.4" r="1.95"/><circle cx="377.4" cy="247.4" r="1.95"/><circle cx="377.5" cy="247.4" r="1.95"/><circle cx="377.6" cy="247.5" r="1.95"/><circle cx="377.7" cy="247.5" r="1.95"/><circle cx="377.7" cy="247.5" r="1.95"/><circle cx="377.8" cy="247.5" r="1.95"/><circle cx="377.9" cy="247.5" r="1.95"/><circle cx="378" cy="247.6" r="1.95"/><circle cx="378" cy="247.6" r="1.95"/><circle cx="378.1" cy="247.6" r="1.95"/><circle cx="378.2" cy="247.6" r="1.95"/><circle cx="378.3" cy="247.6" r="1.95"/><circle cx="378.3" cy="247.7" r="1.95"/><circle cx="378.4" cy="247.7" r="1.95"/><circle cx="378.5" cy="247.7" r="1.95"/><circle cx="378.6" cy="247.7" r="1.95"/><circle cx="378.7" cy="247.7" r="1.95"/><circle cx="378.7" cy="247.8" r="1.95"/><circle cx="378.8" cy="247.8" r="1.95"/><circle cx="378.9" cy="247.8" r="1.95"/><circle cx="379" cy="247.8" r="1.95"/><circle cx="379" cy="247.8" r="1.95"/><circle cx="379.1" cy="247.9" r="1.95"/><circle cx="379.2" cy="247.9" r="1.95"/><circle cx="379.3" cy="247.9" r="1.95"/><circle cx="379.3" cy="247.9" r="1.95"/><circle cx="379.4" cy="247.9" r="1.95"/><circle cx="379.5" cy="248" r="1.95"/><circle cx="379.6" cy="248" r="1.95"/><circle cx="379.6" cy="248" r="1.95"/><circle cx="379.7" cy="248" r="1.95"/><circle cx="379.8" cy="248" r="1.95"/><circle cx="379.9" cy="248" r="1.95"/><circle cx="379.9" cy="248.1" r="1.95"/><circle cx="380" cy="248.1" r="1.95"/><circle cx="380.1" cy="248.1" r="1.95"/><circle cx="380.2" cy="248.1" r="1.95"/><circle cx="380.2" cy="248.1" r="1.95"/><circle cx="380.3" cy="248.2" r="1.95"/><circle cx="380.4" cy="248.2" r="1.95"/><circle cx="380.5" cy="248.2" r="1.95"/><circle cx="380.5" cy="248.2" r="1.95"/><circle cx="380.6" cy="248.2" r="1.95"/><circle cx="380.7" cy="248.2" r="1.95"/><circle cx="380.8" cy="248.3" r="1.95"/><circle cx="380.8" cy="248.3" r="1.95"/><circle cx="380.9" cy="248.3" r="1.95"/><circle cx="381" cy="248.3" r="1.95"/><circle cx="381.1" cy="248.3" r="1.95"/><circle cx="381.1" cy="248.3" r="1.95"/><circle cx="381.2" cy="248.4" r="1.95"/><circle cx="381.3" cy="248.4" r="1.95"/><circle cx="381.3" cy="248.4" r="1.95"/><circle cx="381.4" cy="248.4" r="1.95"/><circle cx="381.5" cy="248.4" r="1.95"/><circle cx="381.6" cy="248.4" r="1.95"/><circle cx="381.6" cy="248.5" r="1.95"/><circle cx="381.7" cy="248.5" r="1.95"/><circle cx="381.8" cy="248.5" r="1.95"/><circle cx="381.9" cy="248.5" r="1.95"/><circle cx="381.9" cy="248.5" r="1.95"/><circle cx="382" cy="248.5" r="1.95"/><circle cx="382.1" cy="248.5" r="1.95"/><circle cx="382.1" cy="248.6" r="1.95"/><circle cx="382.2" cy="248.6" r="1.95"/><circle cx="382.3" cy="248.6" r="1.95"/><circle cx="382.4" cy="248.6" r="1.95"/><circle cx="382.4" cy="248.6" r="1.95"/><circle cx="382.5" cy="248.6" r="1.95"/><circle cx="382.6" cy="248.7" r="1.95"/><circle cx="382.6" cy="248.7" r="1.95"/><circle cx="382.7" cy="248.7" r="1.95"/><circle cx="382.8" cy="248.7" r="1.95"/><circle cx="382.9" cy="248.7" r="1.95"/><circle cx="382.9" cy="248.7" r="1.95"/><circle cx="383" cy="248.8" r="1.95"/><circle cx="383.1" cy="248.8" r="1.95"/><circle cx="383.1" cy="248.8" r="1.95"/><circle cx="383.2" cy="248.8" r="1.95"/><circle cx="383.3" cy="248.8" r="1.95"/><circle cx="383.4" cy="248.8" r="1.95"/><circle cx="383.4" cy="248.8" r="1.95"/><circle cx="383.5" cy="248.9" r="1.95"/><circle cx="383.6" cy="248.9" r="1.95"/><circle cx="383.6" cy="248.9" r="1.95"/><circle cx="383.7" cy="248.9" r="1.95"/><circle cx="383.8" cy="248.9" r="1.95"/><circle cx="383.9" cy="248.9" r="1.95"/><circle cx="383.9" cy="249" r="1.95"/><circle cx="384" cy="249" r="1.95"/><circle cx="384.1" cy="249" r="1.95"/><circle cx="384.1" cy="249" r="1.95"/><circle cx="384.2" cy="249" r="1.95"/><circle cx="384.3" cy="249" r="1.95"/><circle cx="384.3" cy="249" r="1.95"/><circle cx="384.4" cy="249.1" r="1.95"/><circle cx="384.5" cy="249.1" r="1.95"/><circle cx="384.6" cy="249.1" r="1.95"/><circle cx="384.6" cy="249.1" r="1.95"/><circle cx="384.7" cy="249.1" r="1.95"/><circle cx="384.8" cy="249.1" r="1.95"/><circle cx="384.8" cy="249.1" r="1.95"/><circle cx="384.9" cy="249.2" r="1.95"/><circle cx="385" cy="249.2" r="1.95"/><circle cx="385" cy="249.2" r="1.95"/><circle cx="385.1" cy="249.2" r="1.95"/><circle cx="385.2" cy="249.2" r="1.95"/><circle cx="385.2" cy="249.2" r="1.95"/><circle cx="385.3" cy="249.2" r="1.95"/><circle cx="385.4" cy="249.3" r="1.95"/><circle cx="385.5" cy="249.3" r="1.95"/><circle cx="385.5" cy="249.3" r="1.95"/><circle cx="385.6" cy="249.3" r="1.95"/><circle cx="385.7" cy="249.3" r="1.95"/><circle cx="385.7" cy="249.3" r="1.95"/><circle cx="385.8" cy="249.3" r="1.95"/><circle cx="385.9" cy="249.4" r="1.95"/><circle cx="385.9" cy="249.4" r="1.95"/><circle cx="386" cy="249.4" r="1.95"/><circle cx="386.1" cy="249.4" r="1.95"/><circle cx="386.1" cy="249.4" r="1.95"/><circle cx="386.2" cy="249.4" r="1.95"/><circle cx="386.3" cy="249.4" r="1.95"/><circle cx="386.3" cy="249.5" r="1.95"/><circle cx="386.4" cy="249.5" r="1.95"/><circle cx="386.5" cy="249.5" r="1.95"/><circle cx="386.5" cy="249.5" r="1.95"/><circle cx="386.6" cy="249.5" r="1.95"/><circle cx="386.7" cy="249.5" r="1.95"/><circle cx="386.7" cy="249.5" r="1.95"/><circle cx="386.8" cy="249.5" r="1.95"/><circle cx="386.9" cy="249.6" r="1.95"/><circle cx="386.9" cy="249.6" r="1.95"/><circle cx="387" cy="249.6" r="1.95"/><circle cx="387.1" cy="249.6" r="1.95"/><circle cx="387.1" cy="249.6" r="1.95"/><circle cx="387.2" cy="249.6" r="1.95"/><circle cx="387.3" cy="249.6" r="1.95"/><circle cx="387.3" cy="249.6" r="1.95"/><circle cx="387.4" cy="249.7" r="1.95"/><circle cx="387.5" cy="249.7" r="1.95"/><circle cx="387.5" cy="249.7" r="1.95"/><circle cx="387.6" cy="249.7" r="1.95"/><circle cx="387.7" cy="249.7" r="1.95"/><circle cx="387.7" cy="249.7" r="1.95"/><circle cx="387.8" cy="249.7" r="1.95"/><circle cx="387.9" cy="249.7" r="1.95"/><circle cx="387.9" cy="249.8" r="1.95"/><circle cx="388" cy="249.8" r="1.95"/><circle cx="388.1" cy="249.8" r="1.95"/><circle cx="388.1" cy="249.8" r="1.95"/><circle cx="388.2" cy="249.8" r="1.95"/><circle cx="388.3" cy="249.8" r="1.95"/><circle cx="388.3" cy="249.8" r="1.95"/><circle cx="388.4" cy="249.8" r="1.95"/><circle cx="388.5" cy="249.8" r="1.95"/><circle cx="388.5" cy="249.9" r="1.95"/><circle cx="388.6" cy="249.9" r="1.95"/><circle cx="388.7" cy="249.9" r="1.95"/><circle cx="388.7" cy="249.9" r="1.95"/><circle cx="388.8" cy="249.9" r="1.95"/><circle cx="388.9" cy="249.9" r="1.95"/><circle cx="388.9" cy="249.9" r="1.95"/><circle cx="389" cy="249.9" r="1.95"/><circle cx="389.1" cy="249.9" r="1.95"/><circle cx="389.1" cy="250" r="1.95"/><circle cx="389.2" cy="250" r="1.95"/><circle cx="389.3" cy="250" r="1.95"/><circle cx="389.3" cy="250" r="1.95"/><circle cx="389.4" cy="250" r="1.95"/><circle cx="389.4" cy="250" r="1.95"/><circle cx="389.5" cy="250" r="1.95"/><circle cx="389.6" cy="250" r="1.95"/><circle cx="389.6" cy="250" r="1.95"/><circle cx="389.7" cy="250" r="1.95"/><circle cx="389.8" cy="250.1" r="1.95"/><circle cx="389.8" cy="250.1" r="1.95"/><circle cx="389.9" cy="250.1" r="1.95"/><circle cx="390" cy="250.1" r="1.95"/><circle cx="390" cy="250.1" r="1.95"/><circle cx="390.1" cy="250.1" r="1.95"/><circle cx="390.1" cy="250.1" r="1.95"/><circle cx="390.2" cy="250.1" r="1.95"/><circle cx="390.3" cy="250.1" r="1.95"/><circle cx="390.3" cy="250.1" r="1.95"/><circle cx="390.4" cy="250.2" r="1.95"/><circle cx="390.5" cy="250.2" r="1.95"/><circle cx="390.5" cy="250.2" r="1.95"/><circle cx="390.6" cy="250.2" r="1.95"/><circle cx="390.7" cy="250.2" r="1.95"/><circle cx="390.7" cy="250.2" r="1.95"/><circle cx="390.8" cy="250.2" r="1.95"/><circle cx="390.8" cy="250.2" r="1.95"/><circle cx="390.9" cy="250.2" r="1.95"/><circle cx="391" cy="250.2" r="1.95"/><circle cx="391" cy="250.2" r="1.95"/><circle cx="391.1" cy="250.3" r="1.95"/><circle cx="391.2" cy="250.3" r="1.95"/><circle cx="391.2" cy="250.3" r="1.95"/><circle cx="391.3" cy="250.3" r="1.95"/><circle cx="391.3" cy="250.3" r="1.95"/><circle cx="391.4" cy="250.3" r="1.95"/><circle cx="391.5" cy="250.3" r="1.95"/><circle cx="391.5" cy="250.3" r="1.95"/><circle cx="391.6" cy="250.3" r="1.95"/><circle cx="391.7" cy="250.3" r="1.95"/><circle cx="391.7" cy="250.3" r="1.95"/><circle cx="391.8" cy="250.3" r="1.95"/><circle cx="391.8" cy="250.4" r="1.95"/><circle cx="391.9" cy="250.4" r="1.95"/><circle cx="392" cy="250.4" r="1.95"/><circle cx="392" cy="250.4" r="1.95"/><circle cx="392.1" cy="250.4" r="1.95"/><circle cx="392.2" cy="250.4" r="1.95"/><circle cx="392.2" cy="250.4" r="1.95"/><circle cx="392.3" cy="250.4" r="1.95"/><circle cx="392.3" cy="250.4" r="1.95"/><circle cx="392.4" cy="250.4" r="1.95"/><circle cx="392.5" cy="250.4" r="1.95"/><circle cx="392.5" cy="250.4" r="1.95"/><circle cx="392.6" cy="250.5" r="1.95"/><circle cx="392.6" cy="250.5" r="1.95"/><circle cx="392.7" cy="250.5" r="1.95"/><circle cx="392.8" cy="250.5" r="1.95"/><circle cx="392.8" cy="250.5" r="1.95"/><circle cx="392.9" cy="250.5" r="1.95"/><circle cx="393" cy="250.5" r="1.95"/><circle cx="393" cy="250.5" r="1.95"/><circle cx="393.1" cy="250.5" r="1.95"/><circle cx="393.1" cy="250.5" r="1.95"/><circle cx="393.2" cy="250.5" r="1.95"/><circle cx="393.3" cy="250.5" r="1.95"/><circle cx="393.3" cy="250.6" r="1.95"/><circle cx="393.4" cy="250.6" r="1.95"/><circle cx="393.4" cy="250.6" r="1.95"/><circle cx="393.5" cy="250.6" r="1.95"/><circle cx="393.6" cy="250.6" r="1.95"/><circle cx="393.6" cy="250.6" r="1.95"/><circle cx="393.7" cy="250.6" r="1.95"/><circle cx="393.7" cy="250.6" r="1.95"/><circle cx="393.8" cy="250.6" r="1.95"/><circle cx="393.9" cy="250.6" r="1.95"/><circle cx="393.9" cy="250.6" r="1.95"/><circle cx="394" cy="250.6" r="1.95"/><circle cx="394" cy="250.6" r="1.95"/><circle cx="394.1" cy="250.6" r="1.95"/><circle cx="394.2" cy="250.7" r="1.95"/><circle cx="394.2" cy="250.7" r="1.95"/><circle cx="394.3" cy="250.7" r="1.95"/><circle cx="394.3" cy="250.7" r="1.95"/><circle cx="394.4" cy="250.7" r="1.95"/><circle cx="394.5" cy="250.7" r="1.95"/><circle cx="394.5" cy="250.7" r="1.95"/><circle cx="394.6" cy="250.7" r="1.95"/><circle cx="394.6" cy="250.7" r="1.95"/><circle cx="394.7" cy="250.7" r="1.95"/><circle cx="394.8" cy="250.7" r="1.95"/><circle cx="394.8" cy="250.7" r="1.95"/><circle cx="394.9" cy="250.7" r="1.95"/><circle cx="394.9" cy="250.8" r="1.95"/><circle cx="395" cy="250.8" r="1.95"/><circle cx="395.1" cy="250.8" r="1.95"/><circle cx="395.1" cy="250.8" r="1.95"/><circle cx="395.2" cy="250.8" r="1.95"/><circle cx="395.2" cy="250.8" r="1.95"/><circle cx="395.3" cy="250.8" r="1.95"/><circle cx="395.3" cy="250.8" r="1.95"/><circle cx="395.4" cy="250.8" r="1.95"/><circle cx="395.5" cy="250.8" r="1.95"/><circle cx="395.5" cy="250.8" r="1.95"/><circle cx="395.6" cy="250.8" r="1.95"/><circle cx="395.6" cy="250.8" r="1.95"/><circle cx="395.7" cy="250.8" r="1.95"/><circle cx="395.8" cy="250.9" r="1.95"/><circle cx="395.8" cy="250.9" r="1.95"/><circle cx="395.9" cy="250.9" r="1.95"/><circle cx="395.9" cy="250.9" r="1.95"/><circle cx="396" cy="250.9" r="1.95"/><circle cx="396.1" cy="250.9" r="1.95"/><circle cx="396.1" cy="250.9" r="1.95"/><circle cx="396.2" cy="250.9" r="1.95"/><circle cx="396.2" cy="250.9" r="1.95"/><circle cx="396.3" cy="250.9" r="1.95"/><circle cx="396.3" cy="250.9" r="1.95"/><circle cx="396.4" cy="250.9" r="1.95"/><circle cx="396.5" cy="250.9" r="1.95"/><circle cx="396.5" cy="251" r="1.95"/><circle cx="396.6" cy="251" r="1.95"/><circle cx="396.6" cy="251" r="1.95"/><circle cx="396.7" cy="251" r="1.95"/><circle cx="396.7" cy="251" r="1.95"/><circle cx="396.8" cy="251" r="1.95"/><circle cx="396.9" cy="251" r="1.95"/><circle cx="396.9" cy="251" r="1.95"/><circle cx="397" cy="251" r="1.95"/><circle cx="397" cy="251" r="1.95"/><circle cx="397.1" cy="251" r="1.95"/><circle cx="397.1" cy="251" r="1.95"/><circle cx="397.2" cy="251" r="1.95"/><circle cx="397.3" cy="251" r="1.95"/><circle cx="397.3" cy="251.1" r="1.95"/><circle cx="397.4" cy="251.1" r="1.95"/><circle cx="397.4" cy="251.1" r="1.95"/><circle cx="397.5" cy="251.1" r="1.95"/><circle cx="397.5" cy="251.1" r="1.95"/><circle cx="397.6" cy="251.1" r="1.95"/><circle cx="397.7" cy="251.1" r="1.95"/><circle cx="397.7" cy="251.1" r="1.95"/><circle cx="397.8" cy="251.1" r="1.95"/><circle cx="397.8" cy="251.1" r="1.95"/><circle cx="397.9" cy="251.1" r="1.95"/><circle cx="397.9" cy="251.1" r="1.95"/><circle cx="398" cy="251.1" r="1.95"/><circle cx="398.1" cy="251.1" r="1.95"/><circle cx="398.1" cy="251.2" r="1.95"/><circle cx="398.2" cy="251.2" r="1.95"/><circle cx="398.2" cy="251.2" r="1.95"/><circle cx="398.3" cy="251.2" r="1.95"/><circle cx="398.3" cy="251.2" r="1.95"/><circle cx="398.4" cy="251.2" r="1.95"/><circle cx="398.4" cy="251.2" r="1.95"/><circle cx="398.5" cy="251.2" r="1.95"/><circle cx="398.6" cy="251.2" r="1.95"/><circle cx="398.6" cy="251.2" r="1.95"/><circle cx="398.7" cy="251.2" r="1.95"/><circle cx="398.7" cy="251.2" r="1.95"/><circle cx="398.8" cy="251.2" r="1.95"/><circle cx="398.8" cy="251.2" r="1.95"/><circle cx="398.9" cy="251.3" r="1.95"/><circle cx="398.9" cy="251.3" r="1.95"/><circle cx="399" cy="251.3" r="1.95"/><circle cx="399.1" cy="251.3" r="1.95"/><circle cx="399.1" cy="251.3" r="1.95"/><circle cx="399.2" cy="251.3" r="1.95"/><circle cx="399.2" cy="251.3" r="1.95"/><circle cx="399.3" cy="251.3" r="1.95"/><circle cx="399.3" cy="251.3" r="1.95"/><circle cx="399.4" cy="251.3" r="1.95"/><circle cx="399.4" cy="251.3" r="1.95"/><circle cx="399.5" cy="251.3" r="1.95"/><circle cx="399.6" cy="251.3" r="1.95"/><circle cx="399.6" cy="251.3" r="1.95"/><circle cx="399.7" cy="251.3" r="1.95"/><circle cx="399.7" cy="251.4" r="1.95"/><circle cx="399.8" cy="251.4" r="1.95"/><circle cx="399.8" cy="251.4" r="1.95"/><circle cx="399.9" cy="251.4" r="1.95"/><circle cx="399.9" cy="251.4" r="1.95"/><circle cx="400" cy="251.4" r="1.95"/><circle cx="400" cy="251.4" r="1.95"/><circle cx="400.1" cy="251.4" r="1.95"/><circle cx="400.2" cy="251.4" r="1.95"/><circle cx="400.2" cy="251.4" r="1.95"/><circle cx="400.3" cy="251.4" r="1.95"/><circle cx="400.3" cy="251.4" r="1.95"/><circle cx="400.4" cy="251.4" r="1.95"/><circle cx="400.4" cy="251.4" r="1.95"/><circle cx="400.5" cy="251.4" r="1.95"/><circle cx="400.5" cy="251.5" r="1.95"/><circle cx="400.6" cy="251.5" r="1.95"/><circle cx="400.6" cy="251.5" r="1.95"/><circle cx="400.7" cy="251.5" r="1.95"/><circle cx="400.8" cy="251.5" r="1.95"/><circle cx="400.8" cy="251.5" r="1.95"/><circle cx="400.9" cy="251.5" r="1.95"/><circle cx="400.9" cy="251.5" r="1.95"/><circle cx="401" cy="251.5" r="1.95"/><circle cx="401" cy="251.5" r="1.95"/><circle cx="401.1" cy="251.5" r="1.95"/><circle cx="401.1" cy="251.5" r="1.95"/><circle cx="401.2" cy="251.5" r="1.95"/><circle cx="401.2" cy="251.5" r="1.95"/><circle cx="401.3" cy="251.5" r="1.95"/><circle cx="401.3" cy="251.5" r="1.95"/><circle cx="401.4" cy="251.6" r="1.95"/><circle cx="401.5" cy="251.6" r="1.95"/><circle cx="401.5" cy="251.6" r="1.95"/><circle cx="401.6" cy="251.6" r="1.95"/><circle cx="401.6" cy="251.6" r="1.95"/><circle cx="401.7" cy="251.6" r="1.95"/><circle cx="401.7" cy="251.6" r="1.95"/><circle cx="401.8" cy="251.6" r="1.95"/><circle cx="401.8" cy="251.6" r="1.95"/><circle cx="401.9" cy="251.6" r="1.95"/><circle cx="401.9" cy="251.6" r="1.95"/><circle cx="402" cy="251.6" r="1.95"/><circle cx="402" cy="251.6" r="1.95"/><circle cx="402.1" cy="251.6" r="1.95"/><circle cx="402.1" cy="251.6" r="1.95"/><circle cx="402.2" cy="251.6" r="1.95"/><circle cx="402.2" cy="251.7" r="1.95"/><circle cx="402.3" cy="251.7" r="1.95"/><circle cx="402.4" cy="251.7" r="1.95"/><circle cx="402.4" cy="251.7" r="1.95"/><circle cx="402.5" cy="251.7" r="1.95"/><circle cx="402.5" cy="251.7" r="1.95"/><circle cx="402.6" cy="251.7" r="1.95"/><circle cx="402.6" cy="251.7" r="1.95"/><circle cx="402.7" cy="251.7" r="1.95"/><circle cx="402.7" cy="251.7" r="1.95"/><circle cx="402.8" cy="251.7" r="1.95"/><circle cx="402.8" cy="251.7" r="1.95"/><circle cx="402.9" cy="251.7" r="1.95"/><circle cx="402.9" cy="251.7" r="1.95"/><circle cx="403" cy="251.7" r="1.95"/><circle cx="403" cy="251.7" r="1.95"/><circle cx="403.1" cy="251.8" r="1.95"/><circle cx="403.1" cy="251.8" r="1.95"/><circle cx="403.2" cy="251.8" r="1.95"/><circle cx="403.2" cy="251.8" r="1.95"/><circle cx="403.3" cy="251.8" r="1.95"/><circle cx="403.3" cy="251.8" r="1.95"/><circle cx="403.4" cy="251.8" r="1.95"/><circle cx="403.4" cy="251.8" r="1.95"/><circle cx="403.5" cy="251.8" r="1.95"/><circle cx="403.6" cy="251.8" r="1.95"/><circle cx="403.6" cy="251.8" r="1.95"/><circle cx="403.7" cy="251.8" r="1.95"/>
</g>
<path d="M61.7 188.6h2.6M67 181.8h2.6M70.1 173.9h2.6M75.4 168.6h2.6M83.3 166.2h2.6M87.2 159.2h2.6M90.7 150.3h2.6M97.7 146h2.6M103.5 138.1h2.6M111.4 139.1h2.6M116.3 131.3h2.6M121.8 125.4h2.6M130.1 123.4h2.6M135.6 118.5h2.6M140.9 110.6h2.6M146.4 106.7h2.6M152.1 98.8h2.6M155 96.9h2.6M154.7 91.6h2.6M159.5 87h2.6M167.4 82.2h2.6M173.3 76.3h2.6M178.2 70.4h2.6M184.1 65.5h2.6M188.5 57.4h2.6M194.9 55.3h2.6M200.9 52.2h2.6M205.2 50.8h2.6M211.2 55.3h2.6M215.5 55.3h2.6M219 56.5h2.6M219.5 48.5h2.6M222.9 54.8h2.6M225.8 55.3h2.6M228.8 58.2h2.6M233.6 64.6h2.6M235.8 66.5h2.6M239.6 71.1h2.6M243.6 74.2h2.6M245.6 77.5h2.6M249.9 81h2.6M251 84.5h2.6M253 88h2.6M257 92.6L258.5 94.9M260.4 97.6L261.8 99.9M264.4 104.1L265.8 106.4M268.3 109L269.7 111.3M271.1 115.6L272.2 118.1M274 122.8L275.1 125.3M277.2 128.2L278.4 130.6M280.1 135.6L281.4 137.9M284.2 140.1L285.4 142.5M286.7 147.4L287.9 149.8M290 152.6L291.4 154.9M293.7 160L295.2 162.2M297.4 164.9L298.6 167.3M301.1 171.1L302.4 173.5M303.8 177L305.2 179.3M307.6 183L309.1 185.3M311.6 188.8L313.1 191M315.3 195.8L316.8 198M319.1 201.7L320.7 203.9M324 206.7L325.6 208.9M328.2 212.1L329.9 214.2M333.2 216.6L335 218.5M338.2 222.7L340.2 224.6M342.6 227.5L344.7 229.2M348.6 231.6L350.6 233.3M353.4 236L355.5 237.7M359.2 239.4L361.5 240.8M365.3 243.3L367.7 244.5M372 246.8L374.5 247.8M378.6 248.9L381.2 249.7M385 251.1L387.7 251.6M392.1 250.8L394.8 251" stroke="#00f" stroke-width="2.6"/>
<path d="M220.9 44.5V50M251.4 78.5V83.5M253.6 86V91M208.3 47.5V51" stroke="#00f" stroke-width="1.3"/>
<g fill="#ffa500" stroke="none">
<circle cx="107.3" cy="137.2" r="1.35"/><circle cx="69.4" cy="181" r="1.35"/><circle cx="78" cy="168" r="1.35"/><circle cx="87.5" cy="156.8" r="1.35"/><circle cx="91" cy="152.9" r="1.35"/><circle cx="98" cy="141" r="1.35"/><circle cx="102.5" cy="137.2" r="1.35"/><circle cx="110.7" cy="127.7" r="1.35"/><circle cx="115.6" cy="124" r="1.35"/><circle cx="119" cy="126.4" r="1.35"/><circle cx="123" cy="119" r="1.35"/><circle cx="127" cy="121.5" r="1.35"/><circle cx="131.4" cy="116.5" r="1.35"/><circle cx="133.3" cy="114" r="1.35"/><circle cx="139.2" cy="107.3" r="1.35"/><circle cx="143.1" cy="109.3" r="1.35"/><circle cx="147" cy="104.7" r="1.35"/><circle cx="149.6" cy="99.8" r="1.35"/><circle cx="152.4" cy="91.6" r="1.35"/><circle cx="157.9" cy="95.9" r="1.35"/><circle cx="151" cy="91" r="1.35"/><circle cx="159.8" cy="87" r="1.35"/><circle cx="161.6" cy="86.7" r="1.35"/><circle cx="163.5" cy="84.9" r="1.35"/><circle cx="165.3" cy="82.8" r="1.35"/><circle cx="167.1" cy="78.9" r="1.35"/><circle cx="168.9" cy="78.3" r="1.35"/><circle cx="170.6" cy="77.1" r="1.35"/><circle cx="172.3" cy="75.5" r="1.35"/><circle cx="173.9" cy="71.4" r="1.35"/><circle cx="175.5" cy="72" r="1.35"/><circle cx="177" cy="67.5" r="1.35"/><circle cx="178.5" cy="66.6" r="1.35"/><circle cx="180" cy="66.3" r="1.35"/><circle cx="181.5" cy="64.8" r="1.35"/><circle cx="182.9" cy="62.2" r="1.35"/><circle cx="184.2" cy="61" r="1.35"/><circle cx="185.6" cy="58.4" r="1.35"/><circle cx="186.9" cy="56.4" r="1.35"/><circle cx="188.2" cy="58.5" r="1.35"/><circle cx="189.5" cy="53.2" r="1.35"/><circle cx="190.7" cy="55" r="1.35"/><circle cx="191.9" cy="56.4" r="1.35"/><circle cx="193.1" cy="56" r="1.35"/><circle cx="194.3" cy="52" r="1.35"/><circle cx="195.5" cy="48.5" r="1.35"/><circle cx="196.6" cy="49.3" r="1.35"/><circle cx="197.7" cy="53.2" r="1.35"/><circle cx="198.8" cy="52.8" r="1.35"/><circle cx="199.9" cy="51" r="1.35"/><circle cx="200.9" cy="48.3" r="1.35"/><circle cx="202" cy="51.7" r="1.35"/><circle cx="203" cy="44.8" r="1.35"/><circle cx="204" cy="49.7" r="1.35"/><circle cx="205" cy="46.4" r="1.35"/><circle cx="206" cy="48.9" r="1.35"/><circle cx="206.9" cy="48.4" r="1.35"/><circle cx="207.9" cy="48.2" r="1.35"/><circle cx="208.8" cy="45.1" r="1.35"/><circle cx="209.7" cy="48.8" r="1.35"/><circle cx="210.6" cy="47.4" r="1.35"/><circle cx="211.5" cy="48.5" r="1.35"/><circle cx="212.4" cy="45.4" r="1.35"/><circle cx="213.3" cy="43.4" r="1.35"/><circle cx="214.2" cy="46.5" r="1.35"/><circle cx="215" cy="43.6" r="1.35"/><circle cx="215.8" cy="46.7" r="1.35"/><circle cx="216.7" cy="47.2" r="1.35"/><circle cx="217.5" cy="44.1" r="1.35"/><circle cx="218.3" cy="44.1" r="1.35"/><circle cx="219.1" cy="43.5" r="1.35"/><circle cx="219.9" cy="42.8" r="1.35"/><circle cx="220.6" cy="44.5" r="1.35"/><circle cx="221.4" cy="48.6" r="1.35"/><circle cx="222.1" cy="49.3" r="1.35"/><circle cx="222.9" cy="47.9" r="1.35"/><circle cx="223.6" cy="45.2" r="1.35"/><circle cx="224.4" cy="48.6" r="1.35"/><circle cx="225.1" cy="45.2" r="1.35"/><circle cx="225.8" cy="47.7" r="1.35"/><circle cx="226.5" cy="47.3" r="1.35"/><circle cx="227.2" cy="43.8" r="1.35"/><circle cx="227.9" cy="49.2" r="1.35"/><circle cx="228.6" cy="50.5" r="1.35"/><circle cx="229.3" cy="46" r="1.35"/><circle cx="229.9" cy="51.8" r="1.35"/><circle cx="230.6" cy="48.1" r="1.35"/><circle cx="231.2" cy="49.2" r="1.35"/><circle cx="231.9" cy="47.7" r="1.35"/><circle cx="232.5" cy="48.7" r="1.35"/><circle cx="233.2" cy="48.6" r="1.35"/><circle cx="233.8" cy="53.1" r="1.35"/><circle cx="234.4" cy="53.2" r="1.35"/><circle cx="235" cy="50.8" r="1.35"/><circle cx="235.6" cy="55.1" r="1.35"/><circle cx="236.2" cy="53.3" r="1.35"/><circle cx="236.8" cy="54.4" r="1.35"/><circle cx="237.4" cy="57.7" r="1.35"/><circle cx="238" cy="58.2" r="1.35"/><circle cx="238.6" cy="56.6" r="1.35"/><circle cx="239.2" cy="57.1" r="1.35"/><circle cx="239.8" cy="60.3" r="1.35"/><circle cx="240.3" cy="57.8" r="1.35"/><circle cx="240.9" cy="62.8" r="1.35"/><circle cx="241.4" cy="59.9" r="1.35"/><circle cx="242" cy="61.1" r="1.35"/><circle cx="242.5" cy="63" r="1.35"/><circle cx="243.1" cy="64.6" r="1.35"/><circle cx="243.6" cy="63.8" r="1.35"/><circle cx="244.2" cy="63.7" r="1.35"/><circle cx="244.7" cy="63.1" r="1.35"/><circle cx="245.2" cy="62.7" r="1.35"/><circle cx="245.7" cy="64.2" r="1.35"/><circle cx="246.3" cy="67.7" r="1.35"/><circle cx="246.8" cy="68.5" r="1.35"/><circle cx="247.3" cy="67.2" r="1.35"/><circle cx="247.8" cy="67.3" r="1.35"/><circle cx="248.3" cy="69.7" r="1.35"/><circle cx="248.8" cy="69.5" r="1.35"/><circle cx="249.3" cy="69.6" r="1.35"/><circle cx="249.8" cy="69" r="1.35"/><circle cx="250.2" cy="70.4" r="1.35"/><circle cx="250.7" cy="69.8" r="1.35"/><circle cx="251.2" cy="72.9" r="1.35"/><circle cx="251.7" cy="73.7" r="1.35"/><circle cx="252.1" cy="72" r="1.35"/><circle cx="252.6" cy="73.5" r="1.35"/><circle cx="253.1" cy="75.4" r="1.35"/><circle cx="253.5" cy="74.9" r="1.35"/><circle cx="254" cy="76.1" r="1.35"/><circle cx="254.4" cy="75.9" r="1.35"/><circle cx="254.9" cy="78.1" r="1.35"/><circle cx="255.3" cy="78.5" r="1.35"/><circle cx="255.8" cy="78.5" r="1.35"/><circle cx="256.2" cy="79.1" r="1.35"/><circle cx="256.7" cy="80.3" r="1.35"/><circle cx="257.1" cy="80" r="1.35"/><circle cx="257.5" cy="80.1" r="1.35"/><circle cx="258" cy="79.4" r="1.35"/><circle cx="258.4" cy="80" r="1.35"/><circle cx="258.8" cy="83.3" r="1.35"/><circle cx="259.2" cy="82.1" r="1.35"/><circle cx="259.7" cy="82.7" r="1.35"/><circle cx="260.1" cy="82.8" r="1.35"/><circle cx="260.5" cy="83.5" r="1.35"/><circle cx="260.9" cy="84.8" r="1.35"/><circle cx="261.3" cy="86.7" r="1.35"/><circle cx="261.7" cy="88.3" r="1.35"/><circle cx="262.1" cy="88.6" r="1.35"/><circle cx="262.5" cy="88.5" r="1.35"/><circle cx="262.9" cy="90" r="1.35"/><circle cx="263.3" cy="91" r="1.35"/><circle cx="263.7" cy="91.2" r="1.35"/><circle cx="264.1" cy="93.1" r="1.35"/><circle cx="264.5" cy="93" r="1.35"/><circle cx="264.9" cy="93.4" r="1.35"/><circle cx="265.2" cy="94.9" r="1.35"/><circle cx="265.6" cy="95.1" r="1.35"/><circle cx="266" cy="96.1" r="1.35"/><circle cx="266.4" cy="97.5" r="1.35"/><circle cx="266.7" cy="96.7" r="1.35"/><circle cx="267.1" cy="98.5" r="1.35"/><circle cx="267.5" cy="97.4" r="1.35"/><circle cx="267.9" cy="100.3" r="1.35"/><circle cx="268.2" cy="99" r="1.35"/><circle cx="268.6" cy="101.7" r="1.35"/><circle cx="268.9" cy="100.7" r="1.35"/><circle cx="269.3" cy="101.7" r="1.35"/><circle cx="269.7" cy="102.5" r="1.35"/><circle cx="270" cy="104.3" r="1.35"/><circle cx="270.4" cy="105.5" r="1.35"/><circle cx="270.7" cy="105.5" r="1.35"/><circle cx="271.1" cy="105.8" r="1.35"/><circle cx="271.4" cy="106.6" r="1.35"/><circle cx="271.8" cy="106.7" r="1.35"/><circle cx="272.1" cy="108.8" r="1.35"/><circle cx="272.4" cy="109.6" r="1.35"/><circle cx="272.8" cy="108.7" r="1.35"/><circle cx="273.1" cy="111.4" r="1.35"/><circle cx="273.5" cy="111.8" r="1.35"/><circle cx="273.8" cy="110.5" r="1.35"/><circle cx="274.1" cy="112.7" r="1.35"/><circle cx="274.5" cy="112.1" r="1.35"/><circle cx="274.8" cy="112.4" r="1.35"/><circle cx="275.1" cy="113.6" r="1.35"/><circle cx="275.4" cy="113.6" r="1.35"/><circle cx="275.8" cy="116.2" r="1.35"/><circle cx="276.1" cy="114.9" r="1.35"/><circle cx="276.4" cy="116" r="1.35"/><circle cx="276.7" cy="117.2" r="1.35"/><circle cx="277" cy="117.8" r="1.35"/><circle cx="277.4" cy="117.5" r="1.35"/><circle cx="277.7" cy="120" r="1.35"/><circle cx="278" cy="120.6" r="1.35"/><circle cx="278.3" cy="120.5" r="1.35"/><circle cx="278.6" cy="121.7" r="1.35"/><circle cx="278.9" cy="120.7" r="1.35"/><circle cx="279.2" cy="123.2" r="1.35"/><circle cx="279.5" cy="123.3" r="1.35"/><circle cx="279.8" cy="124.6" r="1.35"/><circle cx="280.1" cy="124.6" r="1.35"/><circle cx="280.4" cy="124.2" r="1.35"/><circle cx="280.7" cy="126.5" r="1.35"/><circle cx="281" cy="126.7" r="1.35"/><circle cx="281.3" cy="127.8" r="1.35"/><circle cx="281.6" cy="128.5" r="1.35"/><circle cx="281.9" cy="128.4" r="1.35"/><circle cx="282.2" cy="129.7" r="1.35"/><circle cx="282.5" cy="128.8" r="1.35"/><circle cx="282.8" cy="129" r="1.35"/><circle cx="283.1" cy="130.3" r="1.35"/><circle cx="283.4" cy="130.4" r="1.35"/><circle cx="283.7" cy="132.7" r="1.35"/><circle cx="284" cy="131.6" r="1.35"/><circle cx="284.2" cy="133.8" r="1.35"/><circle cx="284.5" cy="133.9" r="1.35"/><circle cx="284.8" cy="134.4" r="1.35"/><circle cx="285.1" cy="135.4" r="1.35"/><circle cx="285.4" cy="135.7" r="1.35"/><circle cx="285.6" cy="136" r="1.35"/><circle cx="285.9" cy="135.5" r="1.35"/><circle cx="286.2" cy="137.2" r="1.35"/><circle cx="286.5" cy="137.4" r="1.35"/><circle cx="286.7" cy="137.3" r="1.35"/><circle cx="287" cy="138" r="1.35"/><circle cx="287.3" cy="139.7" r="1.35"/><circle cx="287.5" cy="139.3" r="1.35"/><circle cx="287.8" cy="140.4" r="1.35"/><circle cx="288.1" cy="140.4" r="1.35"/><circle cx="288.3" cy="140.1" r="1.35"/><circle cx="288.6" cy="140.8" r="1.35"/><circle cx="288.9" cy="142.9" r="1.35"/><circle cx="289.1" cy="142.8" r="1.35"/><circle cx="289.4" cy="142.6" r="1.35"/><circle cx="289.7" cy="142.7" r="1.35"/><circle cx="289.9" cy="143.4" r="1.35"/><circle cx="290.2" cy="144" r="1.35"/><circle cx="290.4" cy="144.6" r="1.35"/><circle cx="290.7" cy="146.2" r="1.35"/><circle cx="290.9" cy="145.2" r="1.35"/><circle cx="291.2" cy="146.5" r="1.35"/><circle cx="291.5" cy="146.5" r="1.35"/><circle cx="291.7" cy="147" r="1.35"/><circle cx="292" cy="148.1" r="1.35"/><circle cx="292.2" cy="147.4" r="1.35"/><circle cx="292.5" cy="148.4" r="1.35"/><circle cx="292.7" cy="149" r="1.35"/><circle cx="293" cy="149.1" r="1.35"/><circle cx="293.2" cy="149.2" r="1.35"/><circle cx="293.4" cy="150.4" r="1.35"/><circle cx="293.7" cy="150.4" r="1.35"/><circle cx="293.9" cy="152.2" r="1.35"/><circle cx="294.2" cy="151.3" r="1.35"/><circle cx="294.4" cy="152.5" r="1.35"/><circle cx="294.7" cy="152.8" r="1.35"/><circle cx="294.9" cy="153.4" r="1.35"/><circle cx="295.1" cy="153.4" r="1.35"/><circle cx="295.4" cy="154.6" r="1.35"/><circle cx="295.6" cy="154.8" r="1.35"/><circle cx="295.9" cy="155.1" r="1.35"/><circle cx="296.1" cy="155.5" r="1.35"/><circle cx="296.3" cy="155.1" r="1.35"/><circle cx="296.6" cy="156.4" r="1.35"/><circle cx="296.8" cy="157.2" r="1.35"/><circle cx="297" cy="157.4" r="1.35"/><circle cx="297.3" cy="156.7" r="1.35"/><circle cx="297.5" cy="157.6" r="1.35"/><circle cx="297.7" cy="157.8" r="1.35"/><circle cx="297.9" cy="159.1" r="1.35"/><circle cx="298.2" cy="159.8" r="1.35"/><circle cx="298.4" cy="159.9" r="1.35"/><circle cx="298.6" cy="159.4" r="1.35"/><circle cx="298.8" cy="160.4" r="1.35"/><circle cx="299.1" cy="160.6" r="1.35"/><circle cx="299.3" cy="161.6" r="1.35"/><circle cx="299.5" cy="162" r="1.35"/><circle cx="299.7" cy="162.4" r="1.35"/><circle cx="300" cy="161.9" r="1.35"/><circle cx="300.2" cy="163.3" r="1.35"/><circle cx="300.4" cy="162.6" r="1.35"/><circle cx="300.6" cy="163.3" r="1.35"/><circle cx="300.8" cy="164.7" r="1.35"/><circle cx="301.1" cy="164.2" r="1.35"/><circle cx="301.3" cy="164.7" r="1.35"/><circle cx="301.5" cy="165.7" r="1.35"/><circle cx="301.7" cy="165" r="1.35"/><circle cx="301.9" cy="165.7" r="1.35"/><circle cx="302.1" cy="166.3" r="1.35"/><circle cx="302.4" cy="167" r="1.35"/><circle cx="302.6" cy="167.1" r="1.35"/><circle cx="302.8" cy="167.5" r="1.35"/><circle cx="303" cy="167.8" r="1.35"/><circle cx="303.2" cy="169" r="1.35"/><circle cx="303.4" cy="169.4" r="1.35"/><circle cx="303.6" cy="169" r="1.35"/><circle cx="303.8" cy="169.5" r="1.35"/><circle cx="304" cy="169.7" r="1.35"/><circle cx="304.2" cy="170.4" r="1.35"/><circle cx="304.4" cy="170.6" r="1.35"/><circle cx="304.7" cy="171.3" r="1.35"/><circle cx="304.9" cy="172" r="1.35"/><circle cx="305.1" cy="172.4" r="1.35"/><circle cx="305.3" cy="172.1" r="1.35"/><circle cx="305.5" cy="172.2" r="1.35"/><circle cx="305.7" cy="172.7" r="1.35"/><circle cx="305.9" cy="172.9" r="1.35"/><circle cx="306.1" cy="174" r="1.35"/><circle cx="306.3" cy="174.3" r="1.35"/><circle cx="306.5" cy="174.4" r="1.35"/><circle cx="306.7" cy="174.9" r="1.35"/><circle cx="306.9" cy="174.6" r="1.35"/><circle cx="307.1" cy="175" r="1.35"/><circle cx="307.3" cy="175.5" r="1.35"/><circle cx="307.5" cy="175.7" r="1.35"/><circle cx="307.7" cy="176.8" r="1.35"/><circle cx="307.9" cy="177.3" r="1.35"/><circle cx="308.1" cy="176.9" r="1.35"/><circle cx="308.2" cy="177.5" r="1.35"/><circle cx="308.4" cy="178.4" r="1.35"/><circle cx="308.6" cy="178.9" r="1.35"/><circle cx="308.8" cy="178.7" r="1.35"/><circle cx="309" cy="179" r="1.35"/><circle cx="309.2" cy="179.4" r="1.35"/><circle cx="309.4" cy="179.5" r="1.35"/><circle cx="309.6" cy="180.2" r="1.35"/><circle cx="309.8" cy="180.7" r="1.35"/><circle cx="310" cy="180.4" r="1.35"/><circle cx="310.2" cy="181.3" r="1.35"/><circle cx="310.3" cy="181.7" r="1.35"/><circle cx="310.5" cy="181.6" r="1.35"/><circle cx="310.7" cy="182.4" r="1.35"/><circle cx="310.9" cy="182.6" r="1.35"/><circle cx="311.1" cy="182.4" r="1.35"/><circle cx="311.3" cy="182.7" r="1.35"/><circle cx="311.5" cy="183.3" r="1.35"/><circle cx="311.6" cy="183.3" r="1.35"/><circle cx="311.8" cy="183.7" r="1.35"/><circle cx="312" cy="183.8" r="1.35"/><circle cx="312.2" cy="184.8" r="1.35"/><circle cx="312.4" cy="184.5" r="1.35"/><circle cx="312.6" cy="184.6" r="1.35"/><circle cx="312.7" cy="185.6" r="1.35"/><circle cx="312.9" cy="185.4" r="1.35"/><circle cx="313.1" cy="186.5" r="1.35"/><circle cx="313.3" cy="185.9" r="1.35"/><circle cx="313.5" cy="187" r="1.35"/><circle cx="313.6" cy="186.5" r="1.35"/><circle cx="313.8" cy="187.4" r="1.35"/><circle cx="314" cy="187.9" r="1.35"/><circle cx="314.2" cy="188.2" r="1.35"/><circle cx="314.4" cy="188.2" r="1.35"/><circle cx="314.5" cy="188.7" r="1.35"/><circle cx="314.7" cy="188.4" r="1.35"/><circle cx="314.9" cy="189.3" r="1.35"/><circle cx="315.1" cy="189" r="1.35"/><circle cx="315.2" cy="189.2" r="1.35"/><circle cx="315.4" cy="189.3" r="1.35"/><circle cx="315.6" cy="190.3" r="1.35"/><circle cx="315.7" cy="190.8" r="1.35"/><circle cx="315.9" cy="190.7" r="1.35"/><circle cx="316.1" cy="190.7" r="1.35"/><circle cx="316.3" cy="191.6" r="1.35"/><circle cx="316.4" cy="191.8" r="1.35"/><circle cx="316.6" cy="191.7" r="1.35"/><circle cx="316.8" cy="191.6" r="1.35"/><circle cx="316.9" cy="191.9" r="1.35"/><circle cx="317.1" cy="192.6" r="1.35"/><circle cx="317.3" cy="192.9" r="1.35"/><circle cx="317.4" cy="192.7" r="1.35"/><circle cx="317.6" cy="193.3" r="1.35"/><circle cx="317.8" cy="193.8" r="1.35"/><circle cx="318" cy="194" r="1.35"/><circle cx="318.1" cy="194.4" r="1.35"/><circle cx="318.3" cy="194.3" r="1.35"/><circle cx="318.5" cy="194.6" r="1.35"/><circle cx="318.6" cy="194.3" r="1.35"/><circle cx="318.8" cy="195.3" r="1.35"/><circle cx="318.9" cy="195.5" r="1.35"/><circle cx="319.1" cy="195.4" r="1.35"/><circle cx="319.3" cy="195.6" r="1.35"/><circle cx="319.4" cy="196.1" r="1.35"/><circle cx="319.6" cy="196.4" r="1.35"/><circle cx="319.8" cy="195.8" r="1.35"/><circle cx="319.9" cy="196.5" r="1.35"/><circle cx="320.1" cy="196.9" r="1.35"/><circle cx="320.2" cy="197.2" r="1.35"/><circle cx="320.4" cy="196.9" r="1.35"/><circle cx="320.6" cy="197.5" r="1.35"/><circle cx="320.7" cy="197.6" r="1.35"/><circle cx="320.9" cy="197.4" r="1.35"/><circle cx="321" cy="197.5" r="1.35"/><circle cx="321.2" cy="198" r="1.35"/><circle cx="321.4" cy="198.4" r="1.35"/><circle cx="321.5" cy="198.7" r="1.35"/><circle cx="321.7" cy="198.4" r="1.35"/><circle cx="321.8" cy="199.1" r="1.35"/><circle cx="322" cy="198.9" r="1.35"/><circle cx="322.1" cy="199.4" r="1.35"/><circle cx="322.3" cy="199.6" r="1.35"/><circle cx="322.5" cy="199.7" r="1.35"/><circle cx="322.6" cy="199.7" r="1.35"/><circle cx="322.8" cy="200.4" r="1.35"/><circle cx="322.9" cy="200.4" r="1.35"/><circle cx="323.1" cy="200.3" r="1.35"/><circle cx="323.2" cy="200.8" r="1.35"/><circle cx="323.4" cy="200.8" r="1.35"/><circle cx="323.5" cy="201.2" r="1.35"/><circle cx="323.7" cy="201.4" r="1.35"/><circle cx="323.8" cy="201.4" r="1.35"/><circle cx="324" cy="201.6" r="1.35"/><circle cx="324.1" cy="202.5" r="1.35"/><circle cx="324.3" cy="202.5" r="1.35"/><circle cx="324.4" cy="202.6" r="1.35"/><circle cx="324.6" cy="203.2" r="1.35"/><circle cx="324.7" cy="203.4" r="1.35"/><circle cx="324.9" cy="203.8" r="1.35"/><circle cx="325" cy="203.7" r="1.35"/><circle cx="325.2" cy="203.6" r="1.35"/><circle cx="325.3" cy="204.2" r="1.35"/><circle cx="325.5" cy="204.5" r="1.35"/><circle cx="325.6" cy="204.6" r="1.35"/><circle cx="325.8" cy="204.8" r="1.35"/><circle cx="325.9" cy="205" r="1.35"/><circle cx="326.1" cy="205.8" r="1.35"/><circle cx="326.2" cy="205.7" r="1.35"/><circle cx="326.4" cy="205.8" r="1.35"/><circle cx="326.5" cy="206" r="1.35"/><circle cx="326.7" cy="206.4" r="1.35"/><circle cx="326.8" cy="206.4" r="1.35"/><circle cx="327" cy="206.8" r="1.35"/><circle cx="327.1" cy="207.4" r="1.35"/><circle cx="327.2" cy="207.1" r="1.35"/><circle cx="327.4" cy="207.6" r="1.35"/><circle cx="327.5" cy="207.7" r="1.35"/><circle cx="327.7" cy="208" r="1.35"/><circle cx="327.8" cy="208.6" r="1.35"/><circle cx="328" cy="208.5" r="1.35"/><circle cx="328.1" cy="208.9" r="1.35"/><circle cx="328.2" cy="209.3" r="1.35"/><circle cx="328.4" cy="209.4" r="1.35"/><circle cx="328.5" cy="209.4" r="1.35"/><circle cx="328.7" cy="210" r="1.35"/><circle cx="328.8" cy="210.3" r="1.35"/><circle cx="328.9" cy="210.3" r="1.35"/><circle cx="329.1" cy="210.3" r="1.35"/><circle cx="329.2" cy="210.7" r="1.35"/><circle cx="329.4" cy="210.8" r="1.35"/><circle cx="329.5" cy="211.2" r="1.35"/><circle cx="329.6" cy="211.3" r="1.35"/><circle cx="329.8" cy="212" r="1.35"/><circle cx="329.9" cy="212.2" r="1.35"/><circle cx="330.1" cy="212.4" r="1.35"/><circle cx="330.2" cy="212.4" r="1.35"/><circle cx="330.3" cy="212.8" r="1.35"/><circle cx="330.5" cy="213" r="1.35"/><circle cx="330.6" cy="212.9" r="1.35"/><circle cx="330.7" cy="213.2" r="1.35"/><circle cx="330.9" cy="213.3" r="1.35"/><circle cx="331" cy="213.8" r="1.35"/><circle cx="331.2" cy="213.7" r="1.35"/><circle cx="331.3" cy="213.9" r="1.35"/><circle cx="331.4" cy="214.6" r="1.35"/><circle cx="331.6" cy="214.7" r="1.35"/><circle cx="331.7" cy="214.8" r="1.35"/><circle cx="331.8" cy="215" r="1.35"/><circle cx="332" cy="215.4" r="1.35"/><circle cx="332.1" cy="215.3" r="1.35"/><circle cx="332.2" cy="215.8" r="1.35"/><circle cx="332.4" cy="216" r="1.35"/><circle cx="332.5" cy="216.1" r="1.35"/><circle cx="332.6" cy="216.3" r="1.35"/><circle cx="332.8" cy="216.5" r="1.35"/><circle cx="332.9" cy="216.5" r="1.35"/><circle cx="333" cy="217" r="1.35"/><circle cx="333.2" cy="216.8" r="1.35"/><circle cx="333.3" cy="217.3" r="1.35"/><circle cx="333.4" cy="217.4" r="1.35"/><circle cx="333.5" cy="217.6" r="1.35"/><circle cx="333.7" cy="218" r="1.35"/><circle cx="333.8" cy="218" r="1.35"/><circle cx="333.9" cy="218.3" r="1.35"/><circle cx="334.1" cy="218.1" r="1.35"/><circle cx="334.2" cy="218.5" r="1.35"/><circle cx="334.3" cy="218.6" r="1.35"/><circle cx="334.5" cy="218.9" r="1.35"/><circle cx="334.6" cy="219.3" r="1.35"/><circle cx="334.7" cy="219.3" r="1.35"/><circle cx="334.8" cy="219.7" r="1.35"/><circle cx="335" cy="219.8" r="1.35"/><circle cx="335.1" cy="219.9" r="1.35"/><circle cx="335.2" cy="220.2" r="1.35"/><circle cx="335.3" cy="220.5" r="1.35"/><circle cx="335.5" cy="220.7" r="1.35"/><circle cx="335.6" cy="220.5" r="1.35"/><circle cx="335.7" cy="221" r="1.35"/><circle cx="335.9" cy="221" r="1.35"/><circle cx="336" cy="221" r="1.35"/><circle cx="336.1" cy="221.5" r="1.35"/><circle cx="336.2" cy="221.8" r="1.35"/><circle cx="336.4" cy="221.6" r="1.35"/><circle cx="336.5" cy="221.9" r="1.35"/><circle cx="336.6" cy="222" r="1.35"/><circle cx="336.7" cy="222.3" r="1.35"/><circle cx="336.8" cy="222.5" r="1.35"/><circle cx="337" cy="222.7" r="1.35"/><circle cx="337.1" cy="222.9" r="1.35"/><circle cx="337.2" cy="222.8" r="1.35"/><circle cx="337.3" cy="223.1" r="1.35"/><circle cx="337.5" cy="223.6" r="1.35"/><circle cx="337.6" cy="223.7" r="1.35"/><circle cx="337.7" cy="223.7" r="1.35"/><circle cx="337.8" cy="224" r="1.35"/><circle cx="338" cy="223.9" r="1.35"/><circle cx="338.1" cy="224.3" r="1.35"/><circle cx="338.2" cy="224.6" r="1.35"/><circle cx="338.3" cy="224.6" r="1.35"/><circle cx="338.4" cy="224.8" r="1.35"/><circle cx="338.6" cy="224.8" r="1.35"/><circle cx="338.7" cy="225.1" r="1.35"/><circle cx="338.8" cy="225.3" r="1.35"/><circle cx="338.9" cy="225.3" r="1.35"/><circle cx="339" cy="225.6" r="1.35"/><circle cx="339.2" cy="225.7" r="1.35"/><circle cx="339.3" cy="225.9" r="1.35"/><circle cx="339.4" cy="225.9" r="1.35"/><circle cx="339.5" cy="226.1" r="1.35"/><circle cx="339.6" cy="226.2" r="1.35"/><circle cx="339.8" cy="226.4" r="1.35"/><circle cx="339.9" cy="226.5" r="1.35"/><circle cx="340" cy="226.8" r="1.35"/><circle cx="340.1" cy="226.8" r="1.35"/><circle cx="340.2" cy="227.2" r="1.35"/><circle cx="340.3" cy="227.5" r="1.35"/><circle cx="340.5" cy="227.3" r="1.35"/><circle cx="340.6" cy="227.4" r="1.35"/><circle cx="340.7" cy="227.7" r="1.35"/><circle cx="340.8" cy="228" r="1.35"/><circle cx="340.9" cy="228.2" r="1.35"/><circle cx="341" cy="228.1" r="1.35"/><circle cx="341.2" cy="228.3" r="1.35"/><circle cx="341.3" cy="228.7" r="1.35"/><circle cx="341.4" cy="228.5" r="1.35"/><circle cx="341.5" cy="228.9" r="1.35"/><circle cx="341.6" cy="228.8" r="1.35"/><circle cx="341.7" cy="229.3" r="1.35"/><circle cx="341.8" cy="229.3" r="1.35"/><circle cx="342" cy="229.3" r="1.35"/><circle cx="342.1" cy="229.5" r="1.35"/><circle cx="342.2" cy="229.8" r="1.35"/><circle cx="342.3" cy="229.7" r="1.35"/><circle cx="342.4" cy="230" r="1.35"/><circle cx="342.5" cy="230.2" r="1.35"/><circle cx="342.6" cy="230.1" r="1.35"/><circle cx="342.8" cy="230.3" r="1.35"/><circle cx="342.9" cy="230.7" r="1.35"/><circle cx="343" cy="230.9" r="1.35"/><circle cx="343.1" cy="230.9" r="1.35"/><circle cx="343.2" cy="231" r="1.35"/><circle cx="343.3" cy="231.1" r="1.35"/><circle cx="343.4" cy="231.1" r="1.35"/><circle cx="343.5" cy="231.5" r="1.35"/><circle cx="343.7" cy="231.6" r="1.35"/><circle cx="343.8" cy="231.5" r="1.35"/><circle cx="343.9" cy="231.7" r="1.35"/><circle cx="344" cy="232" r="1.35"/><circle cx="344.1" cy="232.1" r="1.35"/><circle cx="344.2" cy="232.1" r="1.35"/><circle cx="344.3" cy="232.3" r="1.35"/><circle cx="344.4" cy="232.6" r="1.35"/><circle cx="344.5" cy="232.7" r="1.35"/><circle cx="344.6" cy="232.8" r="1.35"/><circle cx="344.8" cy="232.9" r="1.35"/><circle cx="344.9" cy="233" r="1.35"/><circle cx="345" cy="233" r="1.35"/><circle cx="345.1" cy="233.2" r="1.35"/><circle cx="345.2" cy="233.5" r="1.35"/><circle cx="345.3" cy="233.5" r="1.35"/><circle cx="345.4" cy="233.6" r="1.35"/><circle cx="345.5" cy="233.9" r="1.35"/><circle cx="345.6" cy="234" r="1.35"/><circle cx="345.7" cy="234" r="1.35"/><circle cx="345.8" cy="234.2" r="1.35"/><circle cx="346" cy="234.2" r="1.35"/><circle cx="346.1" cy="234.5" r="1.35"/><circle cx="346.2" cy="234.5" r="1.35"/><circle cx="346.3" cy="234.6" r="1.35"/><circle cx="346.4" cy="234.7" r="1.35"/><circle cx="346.5" cy="235" r="1.35"/><circle cx="346.6" cy="235" r="1.35"/><circle cx="346.7" cy="235.1" r="1.35"/><circle cx="346.8" cy="235.3" r="1.35"/><circle cx="346.9" cy="235.4" r="1.35"/><circle cx="347" cy="235.5" r="1.35"/><circle cx="347.1" cy="235.5" r="1.35"/><circle cx="347.2" cy="235.7" r="1.35"/><circle cx="347.3" cy="235.9" r="1.35"/><circle cx="347.4" cy="235.8" r="1.35"/><circle cx="347.5" cy="235.9" r="1.35"/><circle cx="347.6" cy="236.2" r="1.35"/><circle cx="347.8" cy="236.4" r="1.35"/><circle cx="347.9" cy="236.5" r="1.35"/><circle cx="348" cy="236.5" r="1.35"/><circle cx="348.1" cy="236.6" r="1.35"/><circle cx="348.2" cy="236.7" r="1.35"/><circle cx="348.3" cy="236.7" r="1.35"/><circle cx="348.4" cy="236.9" r="1.35"/><circle cx="348.5" cy="236.9" r="1.35"/><circle cx="348.6" cy="237.2" r="1.35"/><circle cx="348.7" cy="237.2" r="1.35"/><circle cx="348.8" cy="237.3" r="1.35"/><circle cx="348.9" cy="237.6" r="1.35"/><circle cx="349" cy="237.6" r="1.35"/><circle cx="349.1" cy="237.6" r="1.35"/><circle cx="349.2" cy="237.9" r="1.35"/><circle cx="349.3" cy="237.9" r="1.35"/><circle cx="349.4" cy="237.9" r="1.35"/><circle cx="349.5" cy="238" r="1.35"/><circle cx="349.6" cy="238.2" r="1.35"/><circle cx="349.7" cy="238.4" r="1.35"/><circle cx="349.8" cy="238.4" r="1.35"/><circle cx="349.9" cy="238.5" r="1.35"/><circle cx="350" cy="238.6" r="1.35"/><circle cx="350.1" cy="238.8" r="1.35"/><circle cx="350.2" cy="238.9" r="1.35"/><circle cx="350.3" cy="238.9" r="1.35"/><circle cx="350.4" cy="239" r="1.35"/><circle cx="350.5" cy="239.2" r="1.35"/><circle cx="350.6" cy="239.2" r="1.35"/><circle cx="350.7" cy="239.3" r="1.35"/><circle cx="350.8" cy="239.5" r="1.35"/><circle cx="350.9" cy="239.6" r="1.35"/><circle cx="351" cy="239.8" r="1.35"/><circle cx="351.1" cy="239.8" r="1.35"/><circle cx="351.2" cy="239.8" r="1.35"/><circle cx="351.3" cy="239.9" r="1.35"/><circle cx="351.4" cy="240" r="1.35"/><circle cx="351.5" cy="240.1" r="1.35"/><circle cx="351.6" cy="240.1" r="1.35"/><circle cx="351.7" cy="240.3" r="1.35"/><circle cx="351.8" cy="240.2" r="1.35"/><circle cx="351.9" cy="240.2" r="1.35"/><circle cx="352" cy="240.4" r="1.35"/><circle cx="352.1" cy="240.4" r="1.35"/><circle cx="352.2" cy="240.5" r="1.35"/><circle cx="352.3" cy="240.6" r="1.35"/><circle cx="352.4" cy="240.6" r="1.35"/><circle cx="352.5" cy="240.6" r="1.35"/><circle cx="352.6" cy="240.7" r="1.35"/><circle cx="352.7" cy="240.7" r="1.35"/><circle cx="352.8" cy="240.7" r="1.35"/><circle cx="352.9" cy="240.8" r="1.35"/><circle cx="353" cy="240.9" r="1.35"/><circle cx="353.1" cy="240.9" r="1.35"/><circle cx="353.1" cy="240.9" r="1.35"/><circle cx="353.2" cy="241" r="1.35"/><circle cx="353.3" cy="241" r="1.35"/><circle cx="353.4" cy="241.1" r="1.35"/><circle cx="353.5" cy="241.1" r="1.35"/><circle cx="353.6" cy="241.2" r="1.35"/><circle cx="353.7" cy="241.3" r="1.35"/><circle cx="353.8" cy="241.3" r="1.35"/><circle cx="353.9" cy="241.3" r="1.35"/><circle cx="354" cy="241.4" r="1.35"/><circle cx="354.1" cy="241.4" r="1.35"/><circle cx="354.2" cy="241.5" r="1.35"/><circle cx="354.3" cy="241.5" r="1.35"/><circle cx="354.4" cy="241.7" r="1.35"/><circle cx="354.5" cy="241.6" r="1.35"/><circle cx="354.6" cy="241.7" r="1.35"/><circle cx="354.7" cy="241.8" r="1.35"/><circle cx="354.8" cy="241.9" r="1.35"/><circle cx="354.9" cy="241.9" r="1.35"/><circle cx="354.9" cy="242" r="1.35"/><circle cx="355" cy="241.9" r="1.35"/><circle cx="355.1" cy="242" r="1.35"/><circle cx="355.2" cy="242.1" r="1.35"/><circle cx="355.3" cy="242.1" r="1.35"/><circle cx="355.4" cy="242.2" r="1.35"/><circle cx="355.5" cy="242.2" r="1.35"/><circle cx="355.6" cy="242.3" r="1.35"/><circle cx="355.7" cy="242.4" r="1.35"/><circle cx="355.8" cy="242.4" r="1.35"/><circle cx="355.9" cy="242.4" r="1.35"/><circle cx="356" cy="242.4" r="1.35"/><circle cx="356.1" cy="242.6" r="1.35"/><circle cx="356.1" cy="242.6" r="1.35"/><circle cx="356.2" cy="242.7" r="1.35"/><circle cx="356.3" cy="242.7" r="1.35"/><circle cx="356.4" cy="242.8" r="1.35"/><circle cx="356.5" cy="242.8" r="1.35"/><circle cx="356.6" cy="242.8" r="1.35"/><circle cx="356.7" cy="242.9" r="1.35"/><circle cx="356.8" cy="242.9" r="1.35"/><circle cx="356.9" cy="243" r="1.35"/><circle cx="357" cy="243.1" r="1.35"/><circle cx="357.1" cy="243.1" r="1.35"/><circle cx="357.1" cy="243.2" r="1.35"/><circle cx="357.2" cy="243.1" r="1.35"/><circle cx="357.3" cy="243.2" r="1.35"/><circle cx="357.4" cy="243.3" r="1.35"/><circle cx="357.5" cy="243.3" r="1.35"/><circle cx="357.6" cy="243.3" r="1.35"/><circle cx="357.7" cy="243.4" r="1.35"/><circle cx="357.8" cy="243.4" r="1.35"/><circle cx="357.9" cy="243.5" r="1.35"/><circle cx="357.9" cy="243.5" r="1.35"/><circle cx="358" cy="243.6" r="1.35"/><circle cx="358.1" cy="243.6" r="1.35"/><circle cx="358.2" cy="243.8" r="1.35"/><circle cx="358.3" cy="243.8" r="1.35"/><circle cx="358.4" cy="243.8" r="1.35"/><circle cx="358.5" cy="243.8" r="1.35"/><circle cx="358.6" cy="243.9" r="1.35"/><circle cx="358.7" cy="243.9" r="1.35"/><circle cx="358.7" cy="244" r="1.35"/><circle cx="358.8" cy="244" r="1.35"/><circle cx="358.9" cy="244.1" r="1.35"/><circle cx="359" cy="244.1" r="1.35"/><circle cx="359.1" cy="244.2" r="1.35"/><circle cx="359.2" cy="244.2" r="1.35"/><circle cx="359.3" cy="244.3" r="1.35"/><circle cx="359.4" cy="244.3" r="1.35"/><circle cx="359.4" cy="244.3" r="1.35"/><circle cx="359.5" cy="244.4" r="1.35"/><circle cx="359.6" cy="244.5" r="1.35"/><circle cx="359.7" cy="244.5" r="1.35"/><circle cx="359.8" cy="244.5" r="1.35"/><circle cx="359.9" cy="244.6" r="1.35"/><circle cx="360" cy="244.7" r="1.35"/><circle cx="360" cy="244.6" r="1.35"/><circle cx="360.1" cy="244.7" r="1.35"/><circle cx="360.2" cy="244.8" r="1.35"/><circle cx="360.3" cy="244.8" r="1.35"/><circle cx="360.4" cy="244.8" r="1.35"/><circle cx="360.5" cy="244.9" r="1.35"/><circle cx="360.6" cy="244.9" r="1.35"/><circle cx="360.6" cy="245" r="1.35"/><circle cx="360.7" cy="245" r="1.35"/><circle cx="360.8" cy="245" r="1.35"/><circle cx="360.9" cy="245.1" r="1.35"/><circle cx="361" cy="245.1" r="1.35"/><circle cx="361.1" cy="245.2" r="1.35"/><circle cx="361.2" cy="245.3" r="1.35"/><circle cx="361.2" cy="245.3" r="1.35"/><circle cx="361.3" cy="245.3" r="1.35"/><circle cx="361.4" cy="245.3" r="1.35"/><circle cx="361.5" cy="245.4" r="1.35"/><circle cx="361.6" cy="245.4" r="1.35"/><circle cx="361.7" cy="245.4" r="1.35"/><circle cx="361.7" cy="245.5" r="1.35"/><circle cx="361.8" cy="245.6" r="1.35"/><circle cx="361.9" cy="245.6" r="1.35"/><circle cx="362" cy="245.6" r="1.35"/><circle cx="362.1" cy="245.7" r="1.35"/><circle cx="362.2" cy="245.7" r="1.35"/><circle cx="362.2" cy="245.8" r="1.35"/><circle cx="362.3" cy="245.8" r="1.35"/><circle cx="362.4" cy="245.9" r="1.35"/><circle cx="362.5" cy="245.9" r="1.35"/><circle cx="362.6" cy="245.9" r="1.35"/><circle cx="362.7" cy="246" r="1.35"/><circle cx="362.7" cy="246" r="1.35"/><circle cx="362.8" cy="246.1" r="1.35"/><circle cx="362.9" cy="246.1" r="1.35"/><circle cx="363" cy="246.1" r="1.35"/><circle cx="363.1" cy="246.2" r="1.35"/><circle cx="363.2" cy="246.2" r="1.35"/><circle cx="363.2" cy="246.3" r="1.35"/><circle cx="363.3" cy="246.3" r="1.35"/><circle cx="363.4" cy="246.3" r="1.35"/><circle cx="363.5" cy="246.4" r="1.35"/><circle cx="363.6" cy="246.4" r="1.35"/><circle cx="363.6" cy="246.5" r="1.35"/><circle cx="363.7" cy="246.5" r="1.35"/><circle cx="363.8" cy="246.5" r="1.35"/><circle cx="363.9" cy="246.6" r="1.35"/><circle cx="364" cy="246.6" r="1.35"/><circle cx="364" cy="246.6" r="1.35"/><circle cx="364.1" cy="246.7" r="1.35"/><circle cx="364.2" cy="246.7" r="1.35"/><circle cx="364.3" cy="246.8" r="1.35"/><circle cx="364.4" cy="246.8" r="1.35"/><circle cx="364.5" cy="246.8" r="1.35"/><circle cx="364.5" cy="246.9" r="1.35"/><circle cx="364.6" cy="246.9" r="1.35"/><circle cx="364.7" cy="247" r="1.35"/><circle cx="364.8" cy="247" r="1.35"/><circle cx="364.9" cy="247" r="1.35"/><circle cx="364.9" cy="247.1" r="1.35"/><circle cx="365" cy="247.1" r="1.35"/><circle cx="365.1" cy="247.2" r="1.35"/><circle cx="365.2" cy="247.2" r="1.35"/><circle cx="365.2" cy="247.2" r="1.35"/><circle cx="365.3" cy="247.3" r="1.35"/><circle cx="365.4" cy="247.3" r="1.35"/><circle cx="365.5" cy="247.3" r="1.35"/><circle cx="365.6" cy="247.4" r="1.35"/><circle cx="365.6" cy="247.4" r="1.35"/><circle cx="365.7" cy="247.5" r="1.35"/><circle cx="365.8" cy="247.5" r="1.35"/><circle cx="365.9" cy="247.5" r="1.35"/><circle cx="366" cy="247.5" r="1.35"/><circle cx="366" cy="247.6" r="1.35"/><circle cx="366.1" cy="247.6" r="1.35"/><circle cx="366.2" cy="247.7" r="1.35"/><circle cx="366.3" cy="247.7" r="1.35"/><circle cx="366.3" cy="247.7" r="1.35"/><circle cx="366.4" cy="247.8" r="1.35"/><circle cx="366.5" cy="247.8" r="1.35"/><circle cx="366.6" cy="247.9" r="1.35"/><circle cx="366.7" cy="247.9" r="1.35"/><circle cx="366.7" cy="247.9" r="1.35"/><circle cx="366.8" cy="247.9" r="1.35"/><circle cx="366.9" cy="248" r="1.35"/><circle cx="367" cy="248" r="1.35"/><circle cx="367" cy="248.1" r="1.35"/><circle cx="367.1" cy="248.1" r="1.35"/><circle cx="367.2" cy="248.1" r="1.35"/><circle cx="367.3" cy="248.2" r="1.35"/><circle cx="367.4" cy="248.2" r="1.35"/><circle cx="367.4" cy="248.2" r="1.35"/><circle cx="367.5" cy="248.3" r="1.35"/><circle cx="367.6" cy="248.3" r="1.35"/><circle cx="367.7" cy="248.3" r="1.35"/><circle cx="367.7" cy="248.4" r="1.35"/><circle cx="367.8" cy="248.4" r="1.35"/><circle cx="367.9" cy="248.5" r="1.35"/><circle cx="368" cy="248.5" r="1.35"/><circle cx="368" cy="248.5" r="1.35"/><circle cx="368.1" cy="248.6" r="1.35"/><circle cx="368.2" cy="248.6" r="1.35"/><circle cx="368.3" cy="248.6" r="1.35"/><circle cx="368.3" cy="248.7" r="1.35"/><circle cx="368.4" cy="248.7" r="1.35"/><circle cx="368.5" cy="248.7" r="1.35"/><circle cx="368.6" cy="248.8" r="1.35"/><circle cx="368.6" cy="248.8" r="1.35"/><circle cx="368.7" cy="248.8" r="1.35"/><circle cx="368.8" cy="248.9" r="1.35"/><circle cx="368.9" cy="248.9" r="1.35"/><circle cx="368.9" cy="248.9" r="1.35"/><circle cx="369" cy="249" r="1.35"/><circle cx="369.1" cy="249" r="1.35"/><circle cx="369.2" cy="249" r="1.35"/><circle cx="369.2" cy="249.1" r="1.35"/><circle cx="369.3" cy="249.1" r="1.35"/><circle cx="369.4" cy="249.1" r="1.35"/><circle cx="369.5" cy="249.2" r="1.35"/><circle cx="369.5" cy="249.2" r="1.35"/><circle cx="369.6" cy="249.2" r="1.35"/><circle cx="369.7" cy="249.3" r="1.35"/><circle cx="369.8" cy="249.3" r="1.35"/><circle cx="369.8" cy="249.3" r="1.35"/><circle cx="369.9" cy="249.4" r="1.35"/><circle cx="370" cy="249.4" r="1.35"/><circle cx="370.1" cy="249.4" r="1.35"/><circle cx="370.1" cy="249.5" r="1.35"/><circle cx="370.2" cy="249.5" r="1.35"/><circle cx="370.3" cy="249.5" r="1.35"/><circle cx="370.3" cy="249.6" r="1.35"/><circle cx="370.4" cy="249.6" r="1.35"/><circle cx="370.5" cy="249.6" r="1.35"/><circle cx="370.6" cy="249.7" r="1.35"/><circle cx="370.6" cy="249.7" r="1.35"/><circle cx="370.7" cy="249.7" r="1.35"/><circle cx="370.8" cy="249.8" r="1.35"/><circle cx="370.9" cy="249.8" r="1.35"/><circle cx="370.9" cy="249.8" r="1.35"/><circle cx="371" cy="249.9" r="1.35"/><circle cx="371.1" cy="249.9" r="1.35"/><circle cx="371.1" cy="249.9" r="1.35"/><circle cx="371.2" cy="250" r="1.35"/><circle cx="371.3" cy="250" r="1.35"/><circle cx="371.4" cy="250" r="1.35"/><circle cx="371.4" cy="250.1" r="1.35"/><circle cx="371.5" cy="250.1" r="1.35"/><circle cx="371.6" cy="250.1" r="1.35"/><circle cx="371.7" cy="250.2" r="1.35"/><circle cx="371.7" cy="250.2" r="1.35"/><circle cx="371.8" cy="250.2" r="1.35"/><circle cx="371.9" cy="250.3" r="1.35"/><circle cx="371.9" cy="250.3" r="1.35"/><circle cx="372" cy="250.3" r="1.35"/><circle cx="372.1" cy="250.4" r="1.35"/><circle cx="372.2" cy="250.4" r="1.35"/><circle cx="372.2" cy="250.4" r="1.35"/><circle cx="372.3" cy="250.5" r="1.35"/><circle cx="372.4" cy="250.5" r="1.35"/><circle cx="372.4" cy="250.5" r="1.35"/><circle cx="372.5" cy="250.6" r="1.35"/><circle cx="372.6" cy="250.6" r="1.35"/><circle cx="372.6" cy="250.6" r="1.35"/><circle cx="372.7" cy="250.7" r="1.35"/><circle cx="372.8" cy="250.7" r="1.35"/><circle cx="372.9" cy="250.7" r="1.35"/><circle cx="372.9" cy="250.7" r="1.35"/><circle cx="373" cy="250.8" r="1.35"/><circle cx="373.1" cy="250.8" r="1.35"/><circle cx="373.1" cy="250.8" r="1.35"/><circle cx="373.2" cy="250.9" r="1.35"/><circle cx="373.3" cy="250.9" r="1.35"/><circle cx="373.3" cy="250.9" r="1.35"/><circle cx="373.4" cy="251" r="1.35"/><circle cx="373.5" cy="251" r="1.35"/><circle cx="373.6" cy="251" r="1.35"/><circle cx="373.6" cy="251.1" r="1.35"/><circle cx="373.7" cy="251.1" r="1.35"/><circle cx="373.8" cy="251.1" r="1.35"/><circle cx="373.8" cy="251.2" r="1.35"/><circle cx="373.9" cy="251.2" r="1.35"/><circle cx="374" cy="251.2" r="1.35"/><circle cx="374" cy="251.2" r="1.35"/><circle cx="374.1" cy="251.3" r="1.35"/><circle cx="374.2" cy="251.3" r="1.35"/><circle cx="374.3" cy="251.3" r="1.35"/><circle cx="374.3" cy="251.4" r="1.35"/><circle cx="374.4" cy="251.4" r="1.35"/><circle cx="374.5" cy="251.4" r="1.35"/><circle cx="374.5" cy="251.5" r="1.35"/><circle cx="374.6" cy="251.5" r="1.35"/><circle cx="374.7" cy="251.5" r="1.35"/><circle cx="374.7" cy="251.5" r="1.35"/><circle cx="374.8" cy="251.6" r="1.35"/><circle cx="374.9" cy="251.6" r="1.35"/><circle cx="374.9" cy="251.6" r="1.35"/><circle cx="375" cy="251.7" r="1.35"/><circle cx="375.1" cy="251.7" r="1.35"/><circle cx="375.1" cy="251.7" r="1.35"/><circle cx="375.2" cy="251.8" r="1.35"/><circle cx="375.3" cy="251.8" r="1.35"/><circle cx="375.3" cy="251.8" r="1.35"/><circle cx="375.4" cy="251.8" r="1.35"/><circle cx="375.5" cy="251.9" r="1.35"/><circle cx="375.5" cy="251.9" r="1.35"/><circle cx="375.6" cy="251.9" r="1.35"/><circle cx="375.7" cy="252" r="1.35"/><circle cx="375.7" cy="252" r="1.35"/>
</g>
</g>
<g stroke="#000" fill="none">
<path d="M62.5 0.5 V252.7 H403.5 V0.5" stroke-width="1.1"/>
<path d="M62.0 0 H404.0" stroke="#7c7c7c" stroke-width="2.1"/>
<path d="M103.7 252.7 v-7.2 M103.7 0.5 v7.2 M191.9 252.7 v-7.2 M191.9 0.5 v7.2 M280.1 252.7 v-7.2 M280.1 0.5 v7.2 M368.3 252.7 v-7.2 M368.3 0.5 v7.2 M85.4 252.7 v-3.6 M85.4 0.5 v3.6 M147.8 252.7 v-3.6 M147.8 0.5 v3.6 M173.6 252.7 v-3.6 M173.6 0.5 v3.6 M236 252.7 v-3.6 M236 0.5 v3.6 M261.8 252.7 v-3.6 M261.8 0.5 v3.6 M324.2 252.7 v-3.6 M324.2 0.5 v3.6 M350 252.7 v-3.6 M350 0.5 v3.6 M62.5 234.7 h3.6 M403.5 234.7 h-3.6 M62.5 216.7 h7.2 M403.5 216.7 h-7.2 M62.5 198.6 h3.6 M403.5 198.6 h-3.6 M62.5 180.6 h7.2 M403.5 180.6 h-7.2 M62.5 162.6 h3.6 M403.5 162.6 h-3.6 M62.5 144.6 h7.2 M403.5 144.6 h-7.2 M62.5 126.6 h3.6 M403.5 126.6 h-3.6 M62.5 108.5 h7.2 M403.5 108.5 h-7.2 M62.5 90.5 h3.6 M403.5 90.5 h-3.6 M62.5 72.5 h7.2 M403.5 72.5 h-7.2 M62.5 54.5 h3.6 M403.5 54.5 h-3.6 M62.5 36.5 h7.2 M403.5 36.5 h-7.2 M62.5 18.4 h3.6 M403.5 18.4 h-3.6" stroke="#444" stroke-width="0.95"/>
</g>
<g font-family="'Liberation Serif', serif" fill="#000" font-size="20" style="filter:grayscale(1)">
<text x="59.3" y="259.7" text-anchor="end">0</text>
<text x="59.3" y="223.7" text-anchor="end">0.2</text>
<text x="59.3" y="187.6" text-anchor="end">0.4</text>
<text x="59.3" y="151.6" text-anchor="end">0.6</text>
<text x="59.3" y="115.5" text-anchor="end">0.8</text>
<text x="59.3" y="79.5" text-anchor="end">1</text>
<text x="59.3" y="43.5" text-anchor="end">1.2</text>
<text x="104.1" y="270.9" text-anchor="middle">0.25</text>
<text x="192.3" y="270.9" text-anchor="middle">1</text>
<text x="280.5" y="270.9" text-anchor="middle">4</text>
<text x="368.7" y="270.9" text-anchor="middle">16</text>
<text x="319.3" y="36.5" xml:space="preserve">y = 0</text>
<text x="319.3" y="58.1" xml:space="preserve">y = 1.30</text>
<text x="319.3" y="79.6" xml:space="preserve">y = 2.59</text>
<text x="319.3" y="101.6" xml:space="preserve">y = 3.89</text>
<text x="319.3" y="123.4" xml:space="preserve">y = 5.18</text>
<text x="203" y="296">p<tspan font-size="14.8" dy="7.7">T</tspan><tspan dy="-7.7" dx="-0.9">/Q</tspan><tspan font-size="14.8" dy="7.7">s</tspan><tspan font-size="14.8" dy="-19.1" dx="0.1">adj</tspan></text>
<g transform="translate(23 175.3) rotate(-90)">
<text x="0" y="0" xml:space="preserve">p<tspan font-size="14.8" dy="7.8">T</tspan><tspan font-size="14.8" dy="-19.6" dx="0.4">2</tspan><tspan dy="11.8" dx="-0.6"> dN/d</tspan><tspan font-size="14.8" dy="-11.8">2</tspan><tspan dy="11.8" dx="-0.5">p</tspan><tspan font-size="14.8" dy="7.8">T</tspan></text>
</g>
</g>
<path d="M282.4 31.2 H311" stroke="#000" stroke-width="1.35"/>
<path d="M282.4 52.8 H311" stroke="#f00" stroke-width="1.35" stroke-dasharray="6 1.9"/>
<circle cx="296.95" cy="74.5" r="1.7" fill="none" stroke="#008b00" stroke-width="0.85"/>
<path d="M282.2 96.3 H312" stroke="#00f" stroke-width="2.6" stroke-dasharray="2.5 6.35"/>
<circle cx="297" cy="118.1" r="1.35" fill="#ffa500"/>
</svg>
</body></html>
